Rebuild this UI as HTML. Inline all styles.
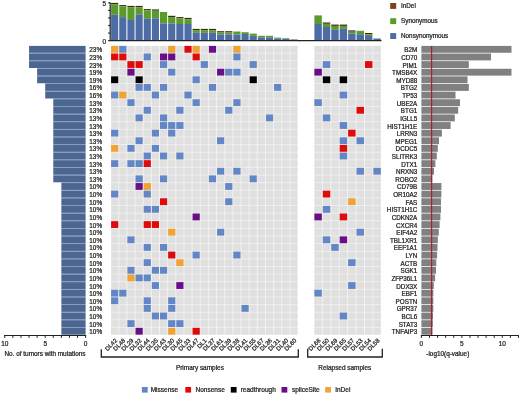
<!DOCTYPE html>
<html><head><meta charset="utf-8"><style>
html,body{margin:0;padding:0;background:#fff;}
body{width:520px;height:394px;overflow:hidden;}
svg{display:block;filter:blur(0.3px);}
text{font-family:"Liberation Sans",sans-serif;fill:#1e1e1e;stroke:#1e1e1e;stroke-width:0.24px;}
</style></head><body>
<svg width="520" height="394" viewBox="0 0 520 394">
<rect x="0" y="0" width="520" height="394" fill="#fff"/>
<g>
<rect x="111.1" y="45.9" width="186.45" height="288.74" fill="#f1f1f1"/>
<rect x="314.4" y="45.9" width="66.44" height="288.74" fill="#f1f1f1"/>
<rect x="111.1" y="45.9" width="7.15" height="6.8" fill="#e0e0e0"/>
<rect x="119.25" y="45.9" width="7.15" height="6.8" fill="#e0e0e0"/>
<rect x="127.4" y="45.9" width="7.15" height="6.8" fill="#e0e0e0"/>
<rect x="135.55" y="45.9" width="7.15" height="6.8" fill="#e0e0e0"/>
<rect x="143.7" y="45.9" width="7.15" height="6.8" fill="#e0e0e0"/>
<rect x="151.85" y="45.9" width="7.15" height="6.8" fill="#e0e0e0"/>
<rect x="160" y="45.9" width="7.15" height="6.8" fill="#e0e0e0"/>
<rect x="168.15" y="45.9" width="7.15" height="6.8" fill="#e0e0e0"/>
<rect x="176.3" y="45.9" width="7.15" height="6.8" fill="#e0e0e0"/>
<rect x="184.45" y="45.9" width="7.15" height="6.8" fill="#e0e0e0"/>
<rect x="192.6" y="45.9" width="7.15" height="6.8" fill="#e0e0e0"/>
<rect x="200.75" y="45.9" width="7.15" height="6.8" fill="#e0e0e0"/>
<rect x="208.9" y="45.9" width="7.15" height="6.8" fill="#e0e0e0"/>
<rect x="217.05" y="45.9" width="7.15" height="6.8" fill="#e0e0e0"/>
<rect x="225.2" y="45.9" width="7.15" height="6.8" fill="#e0e0e0"/>
<rect x="233.35" y="45.9" width="7.15" height="6.8" fill="#e0e0e0"/>
<rect x="241.5" y="45.9" width="7.15" height="6.8" fill="#e0e0e0"/>
<rect x="249.65" y="45.9" width="7.15" height="6.8" fill="#e0e0e0"/>
<rect x="257.8" y="45.9" width="7.15" height="6.8" fill="#e0e0e0"/>
<rect x="265.95" y="45.9" width="7.15" height="6.8" fill="#e0e0e0"/>
<rect x="274.1" y="45.9" width="7.15" height="6.8" fill="#e0e0e0"/>
<rect x="282.25" y="45.9" width="7.15" height="6.8" fill="#e0e0e0"/>
<rect x="290.4" y="45.9" width="7.15" height="6.8" fill="#e0e0e0"/>
<rect x="314.4" y="45.9" width="7.43" height="6.8" fill="#e0e0e0"/>
<rect x="322.83" y="45.9" width="7.43" height="6.8" fill="#e0e0e0"/>
<rect x="331.26" y="45.9" width="7.43" height="6.8" fill="#e0e0e0"/>
<rect x="339.69" y="45.9" width="7.43" height="6.8" fill="#e0e0e0"/>
<rect x="348.12" y="45.9" width="7.43" height="6.8" fill="#e0e0e0"/>
<rect x="356.55" y="45.9" width="7.43" height="6.8" fill="#e0e0e0"/>
<rect x="364.98" y="45.9" width="7.43" height="6.8" fill="#e0e0e0"/>
<rect x="373.41" y="45.9" width="7.43" height="6.8" fill="#e0e0e0"/>
<rect x="111.1" y="53.52" width="7.15" height="6.8" fill="#e0e0e0"/>
<rect x="119.25" y="53.52" width="7.15" height="6.8" fill="#e0e0e0"/>
<rect x="127.4" y="53.52" width="7.15" height="6.8" fill="#e0e0e0"/>
<rect x="135.55" y="53.52" width="7.15" height="6.8" fill="#e0e0e0"/>
<rect x="143.7" y="53.52" width="7.15" height="6.8" fill="#e0e0e0"/>
<rect x="151.85" y="53.52" width="7.15" height="6.8" fill="#e0e0e0"/>
<rect x="160" y="53.52" width="7.15" height="6.8" fill="#e0e0e0"/>
<rect x="168.15" y="53.52" width="7.15" height="6.8" fill="#e0e0e0"/>
<rect x="176.3" y="53.52" width="7.15" height="6.8" fill="#e0e0e0"/>
<rect x="184.45" y="53.52" width="7.15" height="6.8" fill="#e0e0e0"/>
<rect x="192.6" y="53.52" width="7.15" height="6.8" fill="#e0e0e0"/>
<rect x="200.75" y="53.52" width="7.15" height="6.8" fill="#e0e0e0"/>
<rect x="208.9" y="53.52" width="7.15" height="6.8" fill="#e0e0e0"/>
<rect x="217.05" y="53.52" width="7.15" height="6.8" fill="#e0e0e0"/>
<rect x="225.2" y="53.52" width="7.15" height="6.8" fill="#e0e0e0"/>
<rect x="233.35" y="53.52" width="7.15" height="6.8" fill="#e0e0e0"/>
<rect x="241.5" y="53.52" width="7.15" height="6.8" fill="#e0e0e0"/>
<rect x="249.65" y="53.52" width="7.15" height="6.8" fill="#e0e0e0"/>
<rect x="257.8" y="53.52" width="7.15" height="6.8" fill="#e0e0e0"/>
<rect x="265.95" y="53.52" width="7.15" height="6.8" fill="#e0e0e0"/>
<rect x="274.1" y="53.52" width="7.15" height="6.8" fill="#e0e0e0"/>
<rect x="282.25" y="53.52" width="7.15" height="6.8" fill="#e0e0e0"/>
<rect x="290.4" y="53.52" width="7.15" height="6.8" fill="#e0e0e0"/>
<rect x="314.4" y="53.52" width="7.43" height="6.8" fill="#e0e0e0"/>
<rect x="322.83" y="53.52" width="7.43" height="6.8" fill="#e0e0e0"/>
<rect x="331.26" y="53.52" width="7.43" height="6.8" fill="#e0e0e0"/>
<rect x="339.69" y="53.52" width="7.43" height="6.8" fill="#e0e0e0"/>
<rect x="348.12" y="53.52" width="7.43" height="6.8" fill="#e0e0e0"/>
<rect x="356.55" y="53.52" width="7.43" height="6.8" fill="#e0e0e0"/>
<rect x="364.98" y="53.52" width="7.43" height="6.8" fill="#e0e0e0"/>
<rect x="373.41" y="53.52" width="7.43" height="6.8" fill="#e0e0e0"/>
<rect x="111.1" y="61.14" width="7.15" height="6.8" fill="#e0e0e0"/>
<rect x="119.25" y="61.14" width="7.15" height="6.8" fill="#e0e0e0"/>
<rect x="127.4" y="61.14" width="7.15" height="6.8" fill="#e0e0e0"/>
<rect x="135.55" y="61.14" width="7.15" height="6.8" fill="#e0e0e0"/>
<rect x="143.7" y="61.14" width="7.15" height="6.8" fill="#e0e0e0"/>
<rect x="151.85" y="61.14" width="7.15" height="6.8" fill="#e0e0e0"/>
<rect x="160" y="61.14" width="7.15" height="6.8" fill="#e0e0e0"/>
<rect x="168.15" y="61.14" width="7.15" height="6.8" fill="#e0e0e0"/>
<rect x="176.3" y="61.14" width="7.15" height="6.8" fill="#e0e0e0"/>
<rect x="184.45" y="61.14" width="7.15" height="6.8" fill="#e0e0e0"/>
<rect x="192.6" y="61.14" width="7.15" height="6.8" fill="#e0e0e0"/>
<rect x="200.75" y="61.14" width="7.15" height="6.8" fill="#e0e0e0"/>
<rect x="208.9" y="61.14" width="7.15" height="6.8" fill="#e0e0e0"/>
<rect x="217.05" y="61.14" width="7.15" height="6.8" fill="#e0e0e0"/>
<rect x="225.2" y="61.14" width="7.15" height="6.8" fill="#e0e0e0"/>
<rect x="233.35" y="61.14" width="7.15" height="6.8" fill="#e0e0e0"/>
<rect x="241.5" y="61.14" width="7.15" height="6.8" fill="#e0e0e0"/>
<rect x="249.65" y="61.14" width="7.15" height="6.8" fill="#e0e0e0"/>
<rect x="257.8" y="61.14" width="7.15" height="6.8" fill="#e0e0e0"/>
<rect x="265.95" y="61.14" width="7.15" height="6.8" fill="#e0e0e0"/>
<rect x="274.1" y="61.14" width="7.15" height="6.8" fill="#e0e0e0"/>
<rect x="282.25" y="61.14" width="7.15" height="6.8" fill="#e0e0e0"/>
<rect x="290.4" y="61.14" width="7.15" height="6.8" fill="#e0e0e0"/>
<rect x="314.4" y="61.14" width="7.43" height="6.8" fill="#e0e0e0"/>
<rect x="322.83" y="61.14" width="7.43" height="6.8" fill="#e0e0e0"/>
<rect x="331.26" y="61.14" width="7.43" height="6.8" fill="#e0e0e0"/>
<rect x="339.69" y="61.14" width="7.43" height="6.8" fill="#e0e0e0"/>
<rect x="348.12" y="61.14" width="7.43" height="6.8" fill="#e0e0e0"/>
<rect x="356.55" y="61.14" width="7.43" height="6.8" fill="#e0e0e0"/>
<rect x="364.98" y="61.14" width="7.43" height="6.8" fill="#e0e0e0"/>
<rect x="373.41" y="61.14" width="7.43" height="6.8" fill="#e0e0e0"/>
<rect x="111.1" y="68.76" width="7.15" height="6.8" fill="#e0e0e0"/>
<rect x="119.25" y="68.76" width="7.15" height="6.8" fill="#e0e0e0"/>
<rect x="127.4" y="68.76" width="7.15" height="6.8" fill="#e0e0e0"/>
<rect x="135.55" y="68.76" width="7.15" height="6.8" fill="#e0e0e0"/>
<rect x="143.7" y="68.76" width="7.15" height="6.8" fill="#e0e0e0"/>
<rect x="151.85" y="68.76" width="7.15" height="6.8" fill="#e0e0e0"/>
<rect x="160" y="68.76" width="7.15" height="6.8" fill="#e0e0e0"/>
<rect x="168.15" y="68.76" width="7.15" height="6.8" fill="#e0e0e0"/>
<rect x="176.3" y="68.76" width="7.15" height="6.8" fill="#e0e0e0"/>
<rect x="184.45" y="68.76" width="7.15" height="6.8" fill="#e0e0e0"/>
<rect x="192.6" y="68.76" width="7.15" height="6.8" fill="#e0e0e0"/>
<rect x="200.75" y="68.76" width="7.15" height="6.8" fill="#e0e0e0"/>
<rect x="208.9" y="68.76" width="7.15" height="6.8" fill="#e0e0e0"/>
<rect x="217.05" y="68.76" width="7.15" height="6.8" fill="#e0e0e0"/>
<rect x="225.2" y="68.76" width="7.15" height="6.8" fill="#e0e0e0"/>
<rect x="233.35" y="68.76" width="7.15" height="6.8" fill="#e0e0e0"/>
<rect x="241.5" y="68.76" width="7.15" height="6.8" fill="#e0e0e0"/>
<rect x="249.65" y="68.76" width="7.15" height="6.8" fill="#e0e0e0"/>
<rect x="257.8" y="68.76" width="7.15" height="6.8" fill="#e0e0e0"/>
<rect x="265.95" y="68.76" width="7.15" height="6.8" fill="#e0e0e0"/>
<rect x="274.1" y="68.76" width="7.15" height="6.8" fill="#e0e0e0"/>
<rect x="282.25" y="68.76" width="7.15" height="6.8" fill="#e0e0e0"/>
<rect x="290.4" y="68.76" width="7.15" height="6.8" fill="#e0e0e0"/>
<rect x="314.4" y="68.76" width="7.43" height="6.8" fill="#e0e0e0"/>
<rect x="322.83" y="68.76" width="7.43" height="6.8" fill="#e0e0e0"/>
<rect x="331.26" y="68.76" width="7.43" height="6.8" fill="#e0e0e0"/>
<rect x="339.69" y="68.76" width="7.43" height="6.8" fill="#e0e0e0"/>
<rect x="348.12" y="68.76" width="7.43" height="6.8" fill="#e0e0e0"/>
<rect x="356.55" y="68.76" width="7.43" height="6.8" fill="#e0e0e0"/>
<rect x="364.98" y="68.76" width="7.43" height="6.8" fill="#e0e0e0"/>
<rect x="373.41" y="68.76" width="7.43" height="6.8" fill="#e0e0e0"/>
<rect x="111.1" y="76.38" width="7.15" height="6.8" fill="#e0e0e0"/>
<rect x="119.25" y="76.38" width="7.15" height="6.8" fill="#e0e0e0"/>
<rect x="127.4" y="76.38" width="7.15" height="6.8" fill="#e0e0e0"/>
<rect x="135.55" y="76.38" width="7.15" height="6.8" fill="#e0e0e0"/>
<rect x="143.7" y="76.38" width="7.15" height="6.8" fill="#e0e0e0"/>
<rect x="151.85" y="76.38" width="7.15" height="6.8" fill="#e0e0e0"/>
<rect x="160" y="76.38" width="7.15" height="6.8" fill="#e0e0e0"/>
<rect x="168.15" y="76.38" width="7.15" height="6.8" fill="#e0e0e0"/>
<rect x="176.3" y="76.38" width="7.15" height="6.8" fill="#e0e0e0"/>
<rect x="184.45" y="76.38" width="7.15" height="6.8" fill="#e0e0e0"/>
<rect x="192.6" y="76.38" width="7.15" height="6.8" fill="#e0e0e0"/>
<rect x="200.75" y="76.38" width="7.15" height="6.8" fill="#e0e0e0"/>
<rect x="208.9" y="76.38" width="7.15" height="6.8" fill="#e0e0e0"/>
<rect x="217.05" y="76.38" width="7.15" height="6.8" fill="#e0e0e0"/>
<rect x="225.2" y="76.38" width="7.15" height="6.8" fill="#e0e0e0"/>
<rect x="233.35" y="76.38" width="7.15" height="6.8" fill="#e0e0e0"/>
<rect x="241.5" y="76.38" width="7.15" height="6.8" fill="#e0e0e0"/>
<rect x="249.65" y="76.38" width="7.15" height="6.8" fill="#e0e0e0"/>
<rect x="257.8" y="76.38" width="7.15" height="6.8" fill="#e0e0e0"/>
<rect x="265.95" y="76.38" width="7.15" height="6.8" fill="#e0e0e0"/>
<rect x="274.1" y="76.38" width="7.15" height="6.8" fill="#e0e0e0"/>
<rect x="282.25" y="76.38" width="7.15" height="6.8" fill="#e0e0e0"/>
<rect x="290.4" y="76.38" width="7.15" height="6.8" fill="#e0e0e0"/>
<rect x="314.4" y="76.38" width="7.43" height="6.8" fill="#e0e0e0"/>
<rect x="322.83" y="76.38" width="7.43" height="6.8" fill="#e0e0e0"/>
<rect x="331.26" y="76.38" width="7.43" height="6.8" fill="#e0e0e0"/>
<rect x="339.69" y="76.38" width="7.43" height="6.8" fill="#e0e0e0"/>
<rect x="348.12" y="76.38" width="7.43" height="6.8" fill="#e0e0e0"/>
<rect x="356.55" y="76.38" width="7.43" height="6.8" fill="#e0e0e0"/>
<rect x="364.98" y="76.38" width="7.43" height="6.8" fill="#e0e0e0"/>
<rect x="373.41" y="76.38" width="7.43" height="6.8" fill="#e0e0e0"/>
<rect x="111.1" y="84" width="7.15" height="6.8" fill="#e0e0e0"/>
<rect x="119.25" y="84" width="7.15" height="6.8" fill="#e0e0e0"/>
<rect x="127.4" y="84" width="7.15" height="6.8" fill="#e0e0e0"/>
<rect x="135.55" y="84" width="7.15" height="6.8" fill="#e0e0e0"/>
<rect x="143.7" y="84" width="7.15" height="6.8" fill="#e0e0e0"/>
<rect x="151.85" y="84" width="7.15" height="6.8" fill="#e0e0e0"/>
<rect x="160" y="84" width="7.15" height="6.8" fill="#e0e0e0"/>
<rect x="168.15" y="84" width="7.15" height="6.8" fill="#e0e0e0"/>
<rect x="176.3" y="84" width="7.15" height="6.8" fill="#e0e0e0"/>
<rect x="184.45" y="84" width="7.15" height="6.8" fill="#e0e0e0"/>
<rect x="192.6" y="84" width="7.15" height="6.8" fill="#e0e0e0"/>
<rect x="200.75" y="84" width="7.15" height="6.8" fill="#e0e0e0"/>
<rect x="208.9" y="84" width="7.15" height="6.8" fill="#e0e0e0"/>
<rect x="217.05" y="84" width="7.15" height="6.8" fill="#e0e0e0"/>
<rect x="225.2" y="84" width="7.15" height="6.8" fill="#e0e0e0"/>
<rect x="233.35" y="84" width="7.15" height="6.8" fill="#e0e0e0"/>
<rect x="241.5" y="84" width="7.15" height="6.8" fill="#e0e0e0"/>
<rect x="249.65" y="84" width="7.15" height="6.8" fill="#e0e0e0"/>
<rect x="257.8" y="84" width="7.15" height="6.8" fill="#e0e0e0"/>
<rect x="265.95" y="84" width="7.15" height="6.8" fill="#e0e0e0"/>
<rect x="274.1" y="84" width="7.15" height="6.8" fill="#e0e0e0"/>
<rect x="282.25" y="84" width="7.15" height="6.8" fill="#e0e0e0"/>
<rect x="290.4" y="84" width="7.15" height="6.8" fill="#e0e0e0"/>
<rect x="314.4" y="84" width="7.43" height="6.8" fill="#e0e0e0"/>
<rect x="322.83" y="84" width="7.43" height="6.8" fill="#e0e0e0"/>
<rect x="331.26" y="84" width="7.43" height="6.8" fill="#e0e0e0"/>
<rect x="339.69" y="84" width="7.43" height="6.8" fill="#e0e0e0"/>
<rect x="348.12" y="84" width="7.43" height="6.8" fill="#e0e0e0"/>
<rect x="356.55" y="84" width="7.43" height="6.8" fill="#e0e0e0"/>
<rect x="364.98" y="84" width="7.43" height="6.8" fill="#e0e0e0"/>
<rect x="373.41" y="84" width="7.43" height="6.8" fill="#e0e0e0"/>
<rect x="111.1" y="91.62" width="7.15" height="6.8" fill="#e0e0e0"/>
<rect x="119.25" y="91.62" width="7.15" height="6.8" fill="#e0e0e0"/>
<rect x="127.4" y="91.62" width="7.15" height="6.8" fill="#e0e0e0"/>
<rect x="135.55" y="91.62" width="7.15" height="6.8" fill="#e0e0e0"/>
<rect x="143.7" y="91.62" width="7.15" height="6.8" fill="#e0e0e0"/>
<rect x="151.85" y="91.62" width="7.15" height="6.8" fill="#e0e0e0"/>
<rect x="160" y="91.62" width="7.15" height="6.8" fill="#e0e0e0"/>
<rect x="168.15" y="91.62" width="7.15" height="6.8" fill="#e0e0e0"/>
<rect x="176.3" y="91.62" width="7.15" height="6.8" fill="#e0e0e0"/>
<rect x="184.45" y="91.62" width="7.15" height="6.8" fill="#e0e0e0"/>
<rect x="192.6" y="91.62" width="7.15" height="6.8" fill="#e0e0e0"/>
<rect x="200.75" y="91.62" width="7.15" height="6.8" fill="#e0e0e0"/>
<rect x="208.9" y="91.62" width="7.15" height="6.8" fill="#e0e0e0"/>
<rect x="217.05" y="91.62" width="7.15" height="6.8" fill="#e0e0e0"/>
<rect x="225.2" y="91.62" width="7.15" height="6.8" fill="#e0e0e0"/>
<rect x="233.35" y="91.62" width="7.15" height="6.8" fill="#e0e0e0"/>
<rect x="241.5" y="91.62" width="7.15" height="6.8" fill="#e0e0e0"/>
<rect x="249.65" y="91.62" width="7.15" height="6.8" fill="#e0e0e0"/>
<rect x="257.8" y="91.62" width="7.15" height="6.8" fill="#e0e0e0"/>
<rect x="265.95" y="91.62" width="7.15" height="6.8" fill="#e0e0e0"/>
<rect x="274.1" y="91.62" width="7.15" height="6.8" fill="#e0e0e0"/>
<rect x="282.25" y="91.62" width="7.15" height="6.8" fill="#e0e0e0"/>
<rect x="290.4" y="91.62" width="7.15" height="6.8" fill="#e0e0e0"/>
<rect x="314.4" y="91.62" width="7.43" height="6.8" fill="#e0e0e0"/>
<rect x="322.83" y="91.62" width="7.43" height="6.8" fill="#e0e0e0"/>
<rect x="331.26" y="91.62" width="7.43" height="6.8" fill="#e0e0e0"/>
<rect x="339.69" y="91.62" width="7.43" height="6.8" fill="#e0e0e0"/>
<rect x="348.12" y="91.62" width="7.43" height="6.8" fill="#e0e0e0"/>
<rect x="356.55" y="91.62" width="7.43" height="6.8" fill="#e0e0e0"/>
<rect x="364.98" y="91.62" width="7.43" height="6.8" fill="#e0e0e0"/>
<rect x="373.41" y="91.62" width="7.43" height="6.8" fill="#e0e0e0"/>
<rect x="111.1" y="99.24" width="7.15" height="6.8" fill="#e0e0e0"/>
<rect x="119.25" y="99.24" width="7.15" height="6.8" fill="#e0e0e0"/>
<rect x="127.4" y="99.24" width="7.15" height="6.8" fill="#e0e0e0"/>
<rect x="135.55" y="99.24" width="7.15" height="6.8" fill="#e0e0e0"/>
<rect x="143.7" y="99.24" width="7.15" height="6.8" fill="#e0e0e0"/>
<rect x="151.85" y="99.24" width="7.15" height="6.8" fill="#e0e0e0"/>
<rect x="160" y="99.24" width="7.15" height="6.8" fill="#e0e0e0"/>
<rect x="168.15" y="99.24" width="7.15" height="6.8" fill="#e0e0e0"/>
<rect x="176.3" y="99.24" width="7.15" height="6.8" fill="#e0e0e0"/>
<rect x="184.45" y="99.24" width="7.15" height="6.8" fill="#e0e0e0"/>
<rect x="192.6" y="99.24" width="7.15" height="6.8" fill="#e0e0e0"/>
<rect x="200.75" y="99.24" width="7.15" height="6.8" fill="#e0e0e0"/>
<rect x="208.9" y="99.24" width="7.15" height="6.8" fill="#e0e0e0"/>
<rect x="217.05" y="99.24" width="7.15" height="6.8" fill="#e0e0e0"/>
<rect x="225.2" y="99.24" width="7.15" height="6.8" fill="#e0e0e0"/>
<rect x="233.35" y="99.24" width="7.15" height="6.8" fill="#e0e0e0"/>
<rect x="241.5" y="99.24" width="7.15" height="6.8" fill="#e0e0e0"/>
<rect x="249.65" y="99.24" width="7.15" height="6.8" fill="#e0e0e0"/>
<rect x="257.8" y="99.24" width="7.15" height="6.8" fill="#e0e0e0"/>
<rect x="265.95" y="99.24" width="7.15" height="6.8" fill="#e0e0e0"/>
<rect x="274.1" y="99.24" width="7.15" height="6.8" fill="#e0e0e0"/>
<rect x="282.25" y="99.24" width="7.15" height="6.8" fill="#e0e0e0"/>
<rect x="290.4" y="99.24" width="7.15" height="6.8" fill="#e0e0e0"/>
<rect x="314.4" y="99.24" width="7.43" height="6.8" fill="#e0e0e0"/>
<rect x="322.83" y="99.24" width="7.43" height="6.8" fill="#e0e0e0"/>
<rect x="331.26" y="99.24" width="7.43" height="6.8" fill="#e0e0e0"/>
<rect x="339.69" y="99.24" width="7.43" height="6.8" fill="#e0e0e0"/>
<rect x="348.12" y="99.24" width="7.43" height="6.8" fill="#e0e0e0"/>
<rect x="356.55" y="99.24" width="7.43" height="6.8" fill="#e0e0e0"/>
<rect x="364.98" y="99.24" width="7.43" height="6.8" fill="#e0e0e0"/>
<rect x="373.41" y="99.24" width="7.43" height="6.8" fill="#e0e0e0"/>
<rect x="111.1" y="106.86" width="7.15" height="6.8" fill="#e0e0e0"/>
<rect x="119.25" y="106.86" width="7.15" height="6.8" fill="#e0e0e0"/>
<rect x="127.4" y="106.86" width="7.15" height="6.8" fill="#e0e0e0"/>
<rect x="135.55" y="106.86" width="7.15" height="6.8" fill="#e0e0e0"/>
<rect x="143.7" y="106.86" width="7.15" height="6.8" fill="#e0e0e0"/>
<rect x="151.85" y="106.86" width="7.15" height="6.8" fill="#e0e0e0"/>
<rect x="160" y="106.86" width="7.15" height="6.8" fill="#e0e0e0"/>
<rect x="168.15" y="106.86" width="7.15" height="6.8" fill="#e0e0e0"/>
<rect x="176.3" y="106.86" width="7.15" height="6.8" fill="#e0e0e0"/>
<rect x="184.45" y="106.86" width="7.15" height="6.8" fill="#e0e0e0"/>
<rect x="192.6" y="106.86" width="7.15" height="6.8" fill="#e0e0e0"/>
<rect x="200.75" y="106.86" width="7.15" height="6.8" fill="#e0e0e0"/>
<rect x="208.9" y="106.86" width="7.15" height="6.8" fill="#e0e0e0"/>
<rect x="217.05" y="106.86" width="7.15" height="6.8" fill="#e0e0e0"/>
<rect x="225.2" y="106.86" width="7.15" height="6.8" fill="#e0e0e0"/>
<rect x="233.35" y="106.86" width="7.15" height="6.8" fill="#e0e0e0"/>
<rect x="241.5" y="106.86" width="7.15" height="6.8" fill="#e0e0e0"/>
<rect x="249.65" y="106.86" width="7.15" height="6.8" fill="#e0e0e0"/>
<rect x="257.8" y="106.86" width="7.15" height="6.8" fill="#e0e0e0"/>
<rect x="265.95" y="106.86" width="7.15" height="6.8" fill="#e0e0e0"/>
<rect x="274.1" y="106.86" width="7.15" height="6.8" fill="#e0e0e0"/>
<rect x="282.25" y="106.86" width="7.15" height="6.8" fill="#e0e0e0"/>
<rect x="290.4" y="106.86" width="7.15" height="6.8" fill="#e0e0e0"/>
<rect x="314.4" y="106.86" width="7.43" height="6.8" fill="#e0e0e0"/>
<rect x="322.83" y="106.86" width="7.43" height="6.8" fill="#e0e0e0"/>
<rect x="331.26" y="106.86" width="7.43" height="6.8" fill="#e0e0e0"/>
<rect x="339.69" y="106.86" width="7.43" height="6.8" fill="#e0e0e0"/>
<rect x="348.12" y="106.86" width="7.43" height="6.8" fill="#e0e0e0"/>
<rect x="356.55" y="106.86" width="7.43" height="6.8" fill="#e0e0e0"/>
<rect x="364.98" y="106.86" width="7.43" height="6.8" fill="#e0e0e0"/>
<rect x="373.41" y="106.86" width="7.43" height="6.8" fill="#e0e0e0"/>
<rect x="111.1" y="114.48" width="7.15" height="6.8" fill="#e0e0e0"/>
<rect x="119.25" y="114.48" width="7.15" height="6.8" fill="#e0e0e0"/>
<rect x="127.4" y="114.48" width="7.15" height="6.8" fill="#e0e0e0"/>
<rect x="135.55" y="114.48" width="7.15" height="6.8" fill="#e0e0e0"/>
<rect x="143.7" y="114.48" width="7.15" height="6.8" fill="#e0e0e0"/>
<rect x="151.85" y="114.48" width="7.15" height="6.8" fill="#e0e0e0"/>
<rect x="160" y="114.48" width="7.15" height="6.8" fill="#e0e0e0"/>
<rect x="168.15" y="114.48" width="7.15" height="6.8" fill="#e0e0e0"/>
<rect x="176.3" y="114.48" width="7.15" height="6.8" fill="#e0e0e0"/>
<rect x="184.45" y="114.48" width="7.15" height="6.8" fill="#e0e0e0"/>
<rect x="192.6" y="114.48" width="7.15" height="6.8" fill="#e0e0e0"/>
<rect x="200.75" y="114.48" width="7.15" height="6.8" fill="#e0e0e0"/>
<rect x="208.9" y="114.48" width="7.15" height="6.8" fill="#e0e0e0"/>
<rect x="217.05" y="114.48" width="7.15" height="6.8" fill="#e0e0e0"/>
<rect x="225.2" y="114.48" width="7.15" height="6.8" fill="#e0e0e0"/>
<rect x="233.35" y="114.48" width="7.15" height="6.8" fill="#e0e0e0"/>
<rect x="241.5" y="114.48" width="7.15" height="6.8" fill="#e0e0e0"/>
<rect x="249.65" y="114.48" width="7.15" height="6.8" fill="#e0e0e0"/>
<rect x="257.8" y="114.48" width="7.15" height="6.8" fill="#e0e0e0"/>
<rect x="265.95" y="114.48" width="7.15" height="6.8" fill="#e0e0e0"/>
<rect x="274.1" y="114.48" width="7.15" height="6.8" fill="#e0e0e0"/>
<rect x="282.25" y="114.48" width="7.15" height="6.8" fill="#e0e0e0"/>
<rect x="290.4" y="114.48" width="7.15" height="6.8" fill="#e0e0e0"/>
<rect x="314.4" y="114.48" width="7.43" height="6.8" fill="#e0e0e0"/>
<rect x="322.83" y="114.48" width="7.43" height="6.8" fill="#e0e0e0"/>
<rect x="331.26" y="114.48" width="7.43" height="6.8" fill="#e0e0e0"/>
<rect x="339.69" y="114.48" width="7.43" height="6.8" fill="#e0e0e0"/>
<rect x="348.12" y="114.48" width="7.43" height="6.8" fill="#e0e0e0"/>
<rect x="356.55" y="114.48" width="7.43" height="6.8" fill="#e0e0e0"/>
<rect x="364.98" y="114.48" width="7.43" height="6.8" fill="#e0e0e0"/>
<rect x="373.41" y="114.48" width="7.43" height="6.8" fill="#e0e0e0"/>
<rect x="111.1" y="122.1" width="7.15" height="6.8" fill="#e0e0e0"/>
<rect x="119.25" y="122.1" width="7.15" height="6.8" fill="#e0e0e0"/>
<rect x="127.4" y="122.1" width="7.15" height="6.8" fill="#e0e0e0"/>
<rect x="135.55" y="122.1" width="7.15" height="6.8" fill="#e0e0e0"/>
<rect x="143.7" y="122.1" width="7.15" height="6.8" fill="#e0e0e0"/>
<rect x="151.85" y="122.1" width="7.15" height="6.8" fill="#e0e0e0"/>
<rect x="160" y="122.1" width="7.15" height="6.8" fill="#e0e0e0"/>
<rect x="168.15" y="122.1" width="7.15" height="6.8" fill="#e0e0e0"/>
<rect x="176.3" y="122.1" width="7.15" height="6.8" fill="#e0e0e0"/>
<rect x="184.45" y="122.1" width="7.15" height="6.8" fill="#e0e0e0"/>
<rect x="192.6" y="122.1" width="7.15" height="6.8" fill="#e0e0e0"/>
<rect x="200.75" y="122.1" width="7.15" height="6.8" fill="#e0e0e0"/>
<rect x="208.9" y="122.1" width="7.15" height="6.8" fill="#e0e0e0"/>
<rect x="217.05" y="122.1" width="7.15" height="6.8" fill="#e0e0e0"/>
<rect x="225.2" y="122.1" width="7.15" height="6.8" fill="#e0e0e0"/>
<rect x="233.35" y="122.1" width="7.15" height="6.8" fill="#e0e0e0"/>
<rect x="241.5" y="122.1" width="7.15" height="6.8" fill="#e0e0e0"/>
<rect x="249.65" y="122.1" width="7.15" height="6.8" fill="#e0e0e0"/>
<rect x="257.8" y="122.1" width="7.15" height="6.8" fill="#e0e0e0"/>
<rect x="265.95" y="122.1" width="7.15" height="6.8" fill="#e0e0e0"/>
<rect x="274.1" y="122.1" width="7.15" height="6.8" fill="#e0e0e0"/>
<rect x="282.25" y="122.1" width="7.15" height="6.8" fill="#e0e0e0"/>
<rect x="290.4" y="122.1" width="7.15" height="6.8" fill="#e0e0e0"/>
<rect x="314.4" y="122.1" width="7.43" height="6.8" fill="#e0e0e0"/>
<rect x="322.83" y="122.1" width="7.43" height="6.8" fill="#e0e0e0"/>
<rect x="331.26" y="122.1" width="7.43" height="6.8" fill="#e0e0e0"/>
<rect x="339.69" y="122.1" width="7.43" height="6.8" fill="#e0e0e0"/>
<rect x="348.12" y="122.1" width="7.43" height="6.8" fill="#e0e0e0"/>
<rect x="356.55" y="122.1" width="7.43" height="6.8" fill="#e0e0e0"/>
<rect x="364.98" y="122.1" width="7.43" height="6.8" fill="#e0e0e0"/>
<rect x="373.41" y="122.1" width="7.43" height="6.8" fill="#e0e0e0"/>
<rect x="111.1" y="129.72" width="7.15" height="6.8" fill="#e0e0e0"/>
<rect x="119.25" y="129.72" width="7.15" height="6.8" fill="#e0e0e0"/>
<rect x="127.4" y="129.72" width="7.15" height="6.8" fill="#e0e0e0"/>
<rect x="135.55" y="129.72" width="7.15" height="6.8" fill="#e0e0e0"/>
<rect x="143.7" y="129.72" width="7.15" height="6.8" fill="#e0e0e0"/>
<rect x="151.85" y="129.72" width="7.15" height="6.8" fill="#e0e0e0"/>
<rect x="160" y="129.72" width="7.15" height="6.8" fill="#e0e0e0"/>
<rect x="168.15" y="129.72" width="7.15" height="6.8" fill="#e0e0e0"/>
<rect x="176.3" y="129.72" width="7.15" height="6.8" fill="#e0e0e0"/>
<rect x="184.45" y="129.72" width="7.15" height="6.8" fill="#e0e0e0"/>
<rect x="192.6" y="129.72" width="7.15" height="6.8" fill="#e0e0e0"/>
<rect x="200.75" y="129.72" width="7.15" height="6.8" fill="#e0e0e0"/>
<rect x="208.9" y="129.72" width="7.15" height="6.8" fill="#e0e0e0"/>
<rect x="217.05" y="129.72" width="7.15" height="6.8" fill="#e0e0e0"/>
<rect x="225.2" y="129.72" width="7.15" height="6.8" fill="#e0e0e0"/>
<rect x="233.35" y="129.72" width="7.15" height="6.8" fill="#e0e0e0"/>
<rect x="241.5" y="129.72" width="7.15" height="6.8" fill="#e0e0e0"/>
<rect x="249.65" y="129.72" width="7.15" height="6.8" fill="#e0e0e0"/>
<rect x="257.8" y="129.72" width="7.15" height="6.8" fill="#e0e0e0"/>
<rect x="265.95" y="129.72" width="7.15" height="6.8" fill="#e0e0e0"/>
<rect x="274.1" y="129.72" width="7.15" height="6.8" fill="#e0e0e0"/>
<rect x="282.25" y="129.72" width="7.15" height="6.8" fill="#e0e0e0"/>
<rect x="290.4" y="129.72" width="7.15" height="6.8" fill="#e0e0e0"/>
<rect x="314.4" y="129.72" width="7.43" height="6.8" fill="#e0e0e0"/>
<rect x="322.83" y="129.72" width="7.43" height="6.8" fill="#e0e0e0"/>
<rect x="331.26" y="129.72" width="7.43" height="6.8" fill="#e0e0e0"/>
<rect x="339.69" y="129.72" width="7.43" height="6.8" fill="#e0e0e0"/>
<rect x="348.12" y="129.72" width="7.43" height="6.8" fill="#e0e0e0"/>
<rect x="356.55" y="129.72" width="7.43" height="6.8" fill="#e0e0e0"/>
<rect x="364.98" y="129.72" width="7.43" height="6.8" fill="#e0e0e0"/>
<rect x="373.41" y="129.72" width="7.43" height="6.8" fill="#e0e0e0"/>
<rect x="111.1" y="137.34" width="7.15" height="6.8" fill="#e0e0e0"/>
<rect x="119.25" y="137.34" width="7.15" height="6.8" fill="#e0e0e0"/>
<rect x="127.4" y="137.34" width="7.15" height="6.8" fill="#e0e0e0"/>
<rect x="135.55" y="137.34" width="7.15" height="6.8" fill="#e0e0e0"/>
<rect x="143.7" y="137.34" width="7.15" height="6.8" fill="#e0e0e0"/>
<rect x="151.85" y="137.34" width="7.15" height="6.8" fill="#e0e0e0"/>
<rect x="160" y="137.34" width="7.15" height="6.8" fill="#e0e0e0"/>
<rect x="168.15" y="137.34" width="7.15" height="6.8" fill="#e0e0e0"/>
<rect x="176.3" y="137.34" width="7.15" height="6.8" fill="#e0e0e0"/>
<rect x="184.45" y="137.34" width="7.15" height="6.8" fill="#e0e0e0"/>
<rect x="192.6" y="137.34" width="7.15" height="6.8" fill="#e0e0e0"/>
<rect x="200.75" y="137.34" width="7.15" height="6.8" fill="#e0e0e0"/>
<rect x="208.9" y="137.34" width="7.15" height="6.8" fill="#e0e0e0"/>
<rect x="217.05" y="137.34" width="7.15" height="6.8" fill="#e0e0e0"/>
<rect x="225.2" y="137.34" width="7.15" height="6.8" fill="#e0e0e0"/>
<rect x="233.35" y="137.34" width="7.15" height="6.8" fill="#e0e0e0"/>
<rect x="241.5" y="137.34" width="7.15" height="6.8" fill="#e0e0e0"/>
<rect x="249.65" y="137.34" width="7.15" height="6.8" fill="#e0e0e0"/>
<rect x="257.8" y="137.34" width="7.15" height="6.8" fill="#e0e0e0"/>
<rect x="265.95" y="137.34" width="7.15" height="6.8" fill="#e0e0e0"/>
<rect x="274.1" y="137.34" width="7.15" height="6.8" fill="#e0e0e0"/>
<rect x="282.25" y="137.34" width="7.15" height="6.8" fill="#e0e0e0"/>
<rect x="290.4" y="137.34" width="7.15" height="6.8" fill="#e0e0e0"/>
<rect x="314.4" y="137.34" width="7.43" height="6.8" fill="#e0e0e0"/>
<rect x="322.83" y="137.34" width="7.43" height="6.8" fill="#e0e0e0"/>
<rect x="331.26" y="137.34" width="7.43" height="6.8" fill="#e0e0e0"/>
<rect x="339.69" y="137.34" width="7.43" height="6.8" fill="#e0e0e0"/>
<rect x="348.12" y="137.34" width="7.43" height="6.8" fill="#e0e0e0"/>
<rect x="356.55" y="137.34" width="7.43" height="6.8" fill="#e0e0e0"/>
<rect x="364.98" y="137.34" width="7.43" height="6.8" fill="#e0e0e0"/>
<rect x="373.41" y="137.34" width="7.43" height="6.8" fill="#e0e0e0"/>
<rect x="111.1" y="144.96" width="7.15" height="6.8" fill="#e0e0e0"/>
<rect x="119.25" y="144.96" width="7.15" height="6.8" fill="#e0e0e0"/>
<rect x="127.4" y="144.96" width="7.15" height="6.8" fill="#e0e0e0"/>
<rect x="135.55" y="144.96" width="7.15" height="6.8" fill="#e0e0e0"/>
<rect x="143.7" y="144.96" width="7.15" height="6.8" fill="#e0e0e0"/>
<rect x="151.85" y="144.96" width="7.15" height="6.8" fill="#e0e0e0"/>
<rect x="160" y="144.96" width="7.15" height="6.8" fill="#e0e0e0"/>
<rect x="168.15" y="144.96" width="7.15" height="6.8" fill="#e0e0e0"/>
<rect x="176.3" y="144.96" width="7.15" height="6.8" fill="#e0e0e0"/>
<rect x="184.45" y="144.96" width="7.15" height="6.8" fill="#e0e0e0"/>
<rect x="192.6" y="144.96" width="7.15" height="6.8" fill="#e0e0e0"/>
<rect x="200.75" y="144.96" width="7.15" height="6.8" fill="#e0e0e0"/>
<rect x="208.9" y="144.96" width="7.15" height="6.8" fill="#e0e0e0"/>
<rect x="217.05" y="144.96" width="7.15" height="6.8" fill="#e0e0e0"/>
<rect x="225.2" y="144.96" width="7.15" height="6.8" fill="#e0e0e0"/>
<rect x="233.35" y="144.96" width="7.15" height="6.8" fill="#e0e0e0"/>
<rect x="241.5" y="144.96" width="7.15" height="6.8" fill="#e0e0e0"/>
<rect x="249.65" y="144.96" width="7.15" height="6.8" fill="#e0e0e0"/>
<rect x="257.8" y="144.96" width="7.15" height="6.8" fill="#e0e0e0"/>
<rect x="265.95" y="144.96" width="7.15" height="6.8" fill="#e0e0e0"/>
<rect x="274.1" y="144.96" width="7.15" height="6.8" fill="#e0e0e0"/>
<rect x="282.25" y="144.96" width="7.15" height="6.8" fill="#e0e0e0"/>
<rect x="290.4" y="144.96" width="7.15" height="6.8" fill="#e0e0e0"/>
<rect x="314.4" y="144.96" width="7.43" height="6.8" fill="#e0e0e0"/>
<rect x="322.83" y="144.96" width="7.43" height="6.8" fill="#e0e0e0"/>
<rect x="331.26" y="144.96" width="7.43" height="6.8" fill="#e0e0e0"/>
<rect x="339.69" y="144.96" width="7.43" height="6.8" fill="#e0e0e0"/>
<rect x="348.12" y="144.96" width="7.43" height="6.8" fill="#e0e0e0"/>
<rect x="356.55" y="144.96" width="7.43" height="6.8" fill="#e0e0e0"/>
<rect x="364.98" y="144.96" width="7.43" height="6.8" fill="#e0e0e0"/>
<rect x="373.41" y="144.96" width="7.43" height="6.8" fill="#e0e0e0"/>
<rect x="111.1" y="152.58" width="7.15" height="6.8" fill="#e0e0e0"/>
<rect x="119.25" y="152.58" width="7.15" height="6.8" fill="#e0e0e0"/>
<rect x="127.4" y="152.58" width="7.15" height="6.8" fill="#e0e0e0"/>
<rect x="135.55" y="152.58" width="7.15" height="6.8" fill="#e0e0e0"/>
<rect x="143.7" y="152.58" width="7.15" height="6.8" fill="#e0e0e0"/>
<rect x="151.85" y="152.58" width="7.15" height="6.8" fill="#e0e0e0"/>
<rect x="160" y="152.58" width="7.15" height="6.8" fill="#e0e0e0"/>
<rect x="168.15" y="152.58" width="7.15" height="6.8" fill="#e0e0e0"/>
<rect x="176.3" y="152.58" width="7.15" height="6.8" fill="#e0e0e0"/>
<rect x="184.45" y="152.58" width="7.15" height="6.8" fill="#e0e0e0"/>
<rect x="192.6" y="152.58" width="7.15" height="6.8" fill="#e0e0e0"/>
<rect x="200.75" y="152.58" width="7.15" height="6.8" fill="#e0e0e0"/>
<rect x="208.9" y="152.58" width="7.15" height="6.8" fill="#e0e0e0"/>
<rect x="217.05" y="152.58" width="7.15" height="6.8" fill="#e0e0e0"/>
<rect x="225.2" y="152.58" width="7.15" height="6.8" fill="#e0e0e0"/>
<rect x="233.35" y="152.58" width="7.15" height="6.8" fill="#e0e0e0"/>
<rect x="241.5" y="152.58" width="7.15" height="6.8" fill="#e0e0e0"/>
<rect x="249.65" y="152.58" width="7.15" height="6.8" fill="#e0e0e0"/>
<rect x="257.8" y="152.58" width="7.15" height="6.8" fill="#e0e0e0"/>
<rect x="265.95" y="152.58" width="7.15" height="6.8" fill="#e0e0e0"/>
<rect x="274.1" y="152.58" width="7.15" height="6.8" fill="#e0e0e0"/>
<rect x="282.25" y="152.58" width="7.15" height="6.8" fill="#e0e0e0"/>
<rect x="290.4" y="152.58" width="7.15" height="6.8" fill="#e0e0e0"/>
<rect x="314.4" y="152.58" width="7.43" height="6.8" fill="#e0e0e0"/>
<rect x="322.83" y="152.58" width="7.43" height="6.8" fill="#e0e0e0"/>
<rect x="331.26" y="152.58" width="7.43" height="6.8" fill="#e0e0e0"/>
<rect x="339.69" y="152.58" width="7.43" height="6.8" fill="#e0e0e0"/>
<rect x="348.12" y="152.58" width="7.43" height="6.8" fill="#e0e0e0"/>
<rect x="356.55" y="152.58" width="7.43" height="6.8" fill="#e0e0e0"/>
<rect x="364.98" y="152.58" width="7.43" height="6.8" fill="#e0e0e0"/>
<rect x="373.41" y="152.58" width="7.43" height="6.8" fill="#e0e0e0"/>
<rect x="111.1" y="160.2" width="7.15" height="6.8" fill="#e0e0e0"/>
<rect x="119.25" y="160.2" width="7.15" height="6.8" fill="#e0e0e0"/>
<rect x="127.4" y="160.2" width="7.15" height="6.8" fill="#e0e0e0"/>
<rect x="135.55" y="160.2" width="7.15" height="6.8" fill="#e0e0e0"/>
<rect x="143.7" y="160.2" width="7.15" height="6.8" fill="#e0e0e0"/>
<rect x="151.85" y="160.2" width="7.15" height="6.8" fill="#e0e0e0"/>
<rect x="160" y="160.2" width="7.15" height="6.8" fill="#e0e0e0"/>
<rect x="168.15" y="160.2" width="7.15" height="6.8" fill="#e0e0e0"/>
<rect x="176.3" y="160.2" width="7.15" height="6.8" fill="#e0e0e0"/>
<rect x="184.45" y="160.2" width="7.15" height="6.8" fill="#e0e0e0"/>
<rect x="192.6" y="160.2" width="7.15" height="6.8" fill="#e0e0e0"/>
<rect x="200.75" y="160.2" width="7.15" height="6.8" fill="#e0e0e0"/>
<rect x="208.9" y="160.2" width="7.15" height="6.8" fill="#e0e0e0"/>
<rect x="217.05" y="160.2" width="7.15" height="6.8" fill="#e0e0e0"/>
<rect x="225.2" y="160.2" width="7.15" height="6.8" fill="#e0e0e0"/>
<rect x="233.35" y="160.2" width="7.15" height="6.8" fill="#e0e0e0"/>
<rect x="241.5" y="160.2" width="7.15" height="6.8" fill="#e0e0e0"/>
<rect x="249.65" y="160.2" width="7.15" height="6.8" fill="#e0e0e0"/>
<rect x="257.8" y="160.2" width="7.15" height="6.8" fill="#e0e0e0"/>
<rect x="265.95" y="160.2" width="7.15" height="6.8" fill="#e0e0e0"/>
<rect x="274.1" y="160.2" width="7.15" height="6.8" fill="#e0e0e0"/>
<rect x="282.25" y="160.2" width="7.15" height="6.8" fill="#e0e0e0"/>
<rect x="290.4" y="160.2" width="7.15" height="6.8" fill="#e0e0e0"/>
<rect x="314.4" y="160.2" width="7.43" height="6.8" fill="#e0e0e0"/>
<rect x="322.83" y="160.2" width="7.43" height="6.8" fill="#e0e0e0"/>
<rect x="331.26" y="160.2" width="7.43" height="6.8" fill="#e0e0e0"/>
<rect x="339.69" y="160.2" width="7.43" height="6.8" fill="#e0e0e0"/>
<rect x="348.12" y="160.2" width="7.43" height="6.8" fill="#e0e0e0"/>
<rect x="356.55" y="160.2" width="7.43" height="6.8" fill="#e0e0e0"/>
<rect x="364.98" y="160.2" width="7.43" height="6.8" fill="#e0e0e0"/>
<rect x="373.41" y="160.2" width="7.43" height="6.8" fill="#e0e0e0"/>
<rect x="111.1" y="167.82" width="7.15" height="6.8" fill="#e0e0e0"/>
<rect x="119.25" y="167.82" width="7.15" height="6.8" fill="#e0e0e0"/>
<rect x="127.4" y="167.82" width="7.15" height="6.8" fill="#e0e0e0"/>
<rect x="135.55" y="167.82" width="7.15" height="6.8" fill="#e0e0e0"/>
<rect x="143.7" y="167.82" width="7.15" height="6.8" fill="#e0e0e0"/>
<rect x="151.85" y="167.82" width="7.15" height="6.8" fill="#e0e0e0"/>
<rect x="160" y="167.82" width="7.15" height="6.8" fill="#e0e0e0"/>
<rect x="168.15" y="167.82" width="7.15" height="6.8" fill="#e0e0e0"/>
<rect x="176.3" y="167.82" width="7.15" height="6.8" fill="#e0e0e0"/>
<rect x="184.45" y="167.82" width="7.15" height="6.8" fill="#e0e0e0"/>
<rect x="192.6" y="167.82" width="7.15" height="6.8" fill="#e0e0e0"/>
<rect x="200.75" y="167.82" width="7.15" height="6.8" fill="#e0e0e0"/>
<rect x="208.9" y="167.82" width="7.15" height="6.8" fill="#e0e0e0"/>
<rect x="217.05" y="167.82" width="7.15" height="6.8" fill="#e0e0e0"/>
<rect x="225.2" y="167.82" width="7.15" height="6.8" fill="#e0e0e0"/>
<rect x="233.35" y="167.82" width="7.15" height="6.8" fill="#e0e0e0"/>
<rect x="241.5" y="167.82" width="7.15" height="6.8" fill="#e0e0e0"/>
<rect x="249.65" y="167.82" width="7.15" height="6.8" fill="#e0e0e0"/>
<rect x="257.8" y="167.82" width="7.15" height="6.8" fill="#e0e0e0"/>
<rect x="265.95" y="167.82" width="7.15" height="6.8" fill="#e0e0e0"/>
<rect x="274.1" y="167.82" width="7.15" height="6.8" fill="#e0e0e0"/>
<rect x="282.25" y="167.82" width="7.15" height="6.8" fill="#e0e0e0"/>
<rect x="290.4" y="167.82" width="7.15" height="6.8" fill="#e0e0e0"/>
<rect x="314.4" y="167.82" width="7.43" height="6.8" fill="#e0e0e0"/>
<rect x="322.83" y="167.82" width="7.43" height="6.8" fill="#e0e0e0"/>
<rect x="331.26" y="167.82" width="7.43" height="6.8" fill="#e0e0e0"/>
<rect x="339.69" y="167.82" width="7.43" height="6.8" fill="#e0e0e0"/>
<rect x="348.12" y="167.82" width="7.43" height="6.8" fill="#e0e0e0"/>
<rect x="356.55" y="167.82" width="7.43" height="6.8" fill="#e0e0e0"/>
<rect x="364.98" y="167.82" width="7.43" height="6.8" fill="#e0e0e0"/>
<rect x="373.41" y="167.82" width="7.43" height="6.8" fill="#e0e0e0"/>
<rect x="111.1" y="175.44" width="7.15" height="6.8" fill="#e0e0e0"/>
<rect x="119.25" y="175.44" width="7.15" height="6.8" fill="#e0e0e0"/>
<rect x="127.4" y="175.44" width="7.15" height="6.8" fill="#e0e0e0"/>
<rect x="135.55" y="175.44" width="7.15" height="6.8" fill="#e0e0e0"/>
<rect x="143.7" y="175.44" width="7.15" height="6.8" fill="#e0e0e0"/>
<rect x="151.85" y="175.44" width="7.15" height="6.8" fill="#e0e0e0"/>
<rect x="160" y="175.44" width="7.15" height="6.8" fill="#e0e0e0"/>
<rect x="168.15" y="175.44" width="7.15" height="6.8" fill="#e0e0e0"/>
<rect x="176.3" y="175.44" width="7.15" height="6.8" fill="#e0e0e0"/>
<rect x="184.45" y="175.44" width="7.15" height="6.8" fill="#e0e0e0"/>
<rect x="192.6" y="175.44" width="7.15" height="6.8" fill="#e0e0e0"/>
<rect x="200.75" y="175.44" width="7.15" height="6.8" fill="#e0e0e0"/>
<rect x="208.9" y="175.44" width="7.15" height="6.8" fill="#e0e0e0"/>
<rect x="217.05" y="175.44" width="7.15" height="6.8" fill="#e0e0e0"/>
<rect x="225.2" y="175.44" width="7.15" height="6.8" fill="#e0e0e0"/>
<rect x="233.35" y="175.44" width="7.15" height="6.8" fill="#e0e0e0"/>
<rect x="241.5" y="175.44" width="7.15" height="6.8" fill="#e0e0e0"/>
<rect x="249.65" y="175.44" width="7.15" height="6.8" fill="#e0e0e0"/>
<rect x="257.8" y="175.44" width="7.15" height="6.8" fill="#e0e0e0"/>
<rect x="265.95" y="175.44" width="7.15" height="6.8" fill="#e0e0e0"/>
<rect x="274.1" y="175.44" width="7.15" height="6.8" fill="#e0e0e0"/>
<rect x="282.25" y="175.44" width="7.15" height="6.8" fill="#e0e0e0"/>
<rect x="290.4" y="175.44" width="7.15" height="6.8" fill="#e0e0e0"/>
<rect x="314.4" y="175.44" width="7.43" height="6.8" fill="#e0e0e0"/>
<rect x="322.83" y="175.44" width="7.43" height="6.8" fill="#e0e0e0"/>
<rect x="331.26" y="175.44" width="7.43" height="6.8" fill="#e0e0e0"/>
<rect x="339.69" y="175.44" width="7.43" height="6.8" fill="#e0e0e0"/>
<rect x="348.12" y="175.44" width="7.43" height="6.8" fill="#e0e0e0"/>
<rect x="356.55" y="175.44" width="7.43" height="6.8" fill="#e0e0e0"/>
<rect x="364.98" y="175.44" width="7.43" height="6.8" fill="#e0e0e0"/>
<rect x="373.41" y="175.44" width="7.43" height="6.8" fill="#e0e0e0"/>
<rect x="111.1" y="183.06" width="7.15" height="6.8" fill="#e0e0e0"/>
<rect x="119.25" y="183.06" width="7.15" height="6.8" fill="#e0e0e0"/>
<rect x="127.4" y="183.06" width="7.15" height="6.8" fill="#e0e0e0"/>
<rect x="135.55" y="183.06" width="7.15" height="6.8" fill="#e0e0e0"/>
<rect x="143.7" y="183.06" width="7.15" height="6.8" fill="#e0e0e0"/>
<rect x="151.85" y="183.06" width="7.15" height="6.8" fill="#e0e0e0"/>
<rect x="160" y="183.06" width="7.15" height="6.8" fill="#e0e0e0"/>
<rect x="168.15" y="183.06" width="7.15" height="6.8" fill="#e0e0e0"/>
<rect x="176.3" y="183.06" width="7.15" height="6.8" fill="#e0e0e0"/>
<rect x="184.45" y="183.06" width="7.15" height="6.8" fill="#e0e0e0"/>
<rect x="192.6" y="183.06" width="7.15" height="6.8" fill="#e0e0e0"/>
<rect x="200.75" y="183.06" width="7.15" height="6.8" fill="#e0e0e0"/>
<rect x="208.9" y="183.06" width="7.15" height="6.8" fill="#e0e0e0"/>
<rect x="217.05" y="183.06" width="7.15" height="6.8" fill="#e0e0e0"/>
<rect x="225.2" y="183.06" width="7.15" height="6.8" fill="#e0e0e0"/>
<rect x="233.35" y="183.06" width="7.15" height="6.8" fill="#e0e0e0"/>
<rect x="241.5" y="183.06" width="7.15" height="6.8" fill="#e0e0e0"/>
<rect x="249.65" y="183.06" width="7.15" height="6.8" fill="#e0e0e0"/>
<rect x="257.8" y="183.06" width="7.15" height="6.8" fill="#e0e0e0"/>
<rect x="265.95" y="183.06" width="7.15" height="6.8" fill="#e0e0e0"/>
<rect x="274.1" y="183.06" width="7.15" height="6.8" fill="#e0e0e0"/>
<rect x="282.25" y="183.06" width="7.15" height="6.8" fill="#e0e0e0"/>
<rect x="290.4" y="183.06" width="7.15" height="6.8" fill="#e0e0e0"/>
<rect x="314.4" y="183.06" width="7.43" height="6.8" fill="#e0e0e0"/>
<rect x="322.83" y="183.06" width="7.43" height="6.8" fill="#e0e0e0"/>
<rect x="331.26" y="183.06" width="7.43" height="6.8" fill="#e0e0e0"/>
<rect x="339.69" y="183.06" width="7.43" height="6.8" fill="#e0e0e0"/>
<rect x="348.12" y="183.06" width="7.43" height="6.8" fill="#e0e0e0"/>
<rect x="356.55" y="183.06" width="7.43" height="6.8" fill="#e0e0e0"/>
<rect x="364.98" y="183.06" width="7.43" height="6.8" fill="#e0e0e0"/>
<rect x="373.41" y="183.06" width="7.43" height="6.8" fill="#e0e0e0"/>
<rect x="111.1" y="190.68" width="7.15" height="6.8" fill="#e0e0e0"/>
<rect x="119.25" y="190.68" width="7.15" height="6.8" fill="#e0e0e0"/>
<rect x="127.4" y="190.68" width="7.15" height="6.8" fill="#e0e0e0"/>
<rect x="135.55" y="190.68" width="7.15" height="6.8" fill="#e0e0e0"/>
<rect x="143.7" y="190.68" width="7.15" height="6.8" fill="#e0e0e0"/>
<rect x="151.85" y="190.68" width="7.15" height="6.8" fill="#e0e0e0"/>
<rect x="160" y="190.68" width="7.15" height="6.8" fill="#e0e0e0"/>
<rect x="168.15" y="190.68" width="7.15" height="6.8" fill="#e0e0e0"/>
<rect x="176.3" y="190.68" width="7.15" height="6.8" fill="#e0e0e0"/>
<rect x="184.45" y="190.68" width="7.15" height="6.8" fill="#e0e0e0"/>
<rect x="192.6" y="190.68" width="7.15" height="6.8" fill="#e0e0e0"/>
<rect x="200.75" y="190.68" width="7.15" height="6.8" fill="#e0e0e0"/>
<rect x="208.9" y="190.68" width="7.15" height="6.8" fill="#e0e0e0"/>
<rect x="217.05" y="190.68" width="7.15" height="6.8" fill="#e0e0e0"/>
<rect x="225.2" y="190.68" width="7.15" height="6.8" fill="#e0e0e0"/>
<rect x="233.35" y="190.68" width="7.15" height="6.8" fill="#e0e0e0"/>
<rect x="241.5" y="190.68" width="7.15" height="6.8" fill="#e0e0e0"/>
<rect x="249.65" y="190.68" width="7.15" height="6.8" fill="#e0e0e0"/>
<rect x="257.8" y="190.68" width="7.15" height="6.8" fill="#e0e0e0"/>
<rect x="265.95" y="190.68" width="7.15" height="6.8" fill="#e0e0e0"/>
<rect x="274.1" y="190.68" width="7.15" height="6.8" fill="#e0e0e0"/>
<rect x="282.25" y="190.68" width="7.15" height="6.8" fill="#e0e0e0"/>
<rect x="290.4" y="190.68" width="7.15" height="6.8" fill="#e0e0e0"/>
<rect x="314.4" y="190.68" width="7.43" height="6.8" fill="#e0e0e0"/>
<rect x="322.83" y="190.68" width="7.43" height="6.8" fill="#e0e0e0"/>
<rect x="331.26" y="190.68" width="7.43" height="6.8" fill="#e0e0e0"/>
<rect x="339.69" y="190.68" width="7.43" height="6.8" fill="#e0e0e0"/>
<rect x="348.12" y="190.68" width="7.43" height="6.8" fill="#e0e0e0"/>
<rect x="356.55" y="190.68" width="7.43" height="6.8" fill="#e0e0e0"/>
<rect x="364.98" y="190.68" width="7.43" height="6.8" fill="#e0e0e0"/>
<rect x="373.41" y="190.68" width="7.43" height="6.8" fill="#e0e0e0"/>
<rect x="111.1" y="198.3" width="7.15" height="6.8" fill="#e0e0e0"/>
<rect x="119.25" y="198.3" width="7.15" height="6.8" fill="#e0e0e0"/>
<rect x="127.4" y="198.3" width="7.15" height="6.8" fill="#e0e0e0"/>
<rect x="135.55" y="198.3" width="7.15" height="6.8" fill="#e0e0e0"/>
<rect x="143.7" y="198.3" width="7.15" height="6.8" fill="#e0e0e0"/>
<rect x="151.85" y="198.3" width="7.15" height="6.8" fill="#e0e0e0"/>
<rect x="160" y="198.3" width="7.15" height="6.8" fill="#e0e0e0"/>
<rect x="168.15" y="198.3" width="7.15" height="6.8" fill="#e0e0e0"/>
<rect x="176.3" y="198.3" width="7.15" height="6.8" fill="#e0e0e0"/>
<rect x="184.45" y="198.3" width="7.15" height="6.8" fill="#e0e0e0"/>
<rect x="192.6" y="198.3" width="7.15" height="6.8" fill="#e0e0e0"/>
<rect x="200.75" y="198.3" width="7.15" height="6.8" fill="#e0e0e0"/>
<rect x="208.9" y="198.3" width="7.15" height="6.8" fill="#e0e0e0"/>
<rect x="217.05" y="198.3" width="7.15" height="6.8" fill="#e0e0e0"/>
<rect x="225.2" y="198.3" width="7.15" height="6.8" fill="#e0e0e0"/>
<rect x="233.35" y="198.3" width="7.15" height="6.8" fill="#e0e0e0"/>
<rect x="241.5" y="198.3" width="7.15" height="6.8" fill="#e0e0e0"/>
<rect x="249.65" y="198.3" width="7.15" height="6.8" fill="#e0e0e0"/>
<rect x="257.8" y="198.3" width="7.15" height="6.8" fill="#e0e0e0"/>
<rect x="265.95" y="198.3" width="7.15" height="6.8" fill="#e0e0e0"/>
<rect x="274.1" y="198.3" width="7.15" height="6.8" fill="#e0e0e0"/>
<rect x="282.25" y="198.3" width="7.15" height="6.8" fill="#e0e0e0"/>
<rect x="290.4" y="198.3" width="7.15" height="6.8" fill="#e0e0e0"/>
<rect x="314.4" y="198.3" width="7.43" height="6.8" fill="#e0e0e0"/>
<rect x="322.83" y="198.3" width="7.43" height="6.8" fill="#e0e0e0"/>
<rect x="331.26" y="198.3" width="7.43" height="6.8" fill="#e0e0e0"/>
<rect x="339.69" y="198.3" width="7.43" height="6.8" fill="#e0e0e0"/>
<rect x="348.12" y="198.3" width="7.43" height="6.8" fill="#e0e0e0"/>
<rect x="356.55" y="198.3" width="7.43" height="6.8" fill="#e0e0e0"/>
<rect x="364.98" y="198.3" width="7.43" height="6.8" fill="#e0e0e0"/>
<rect x="373.41" y="198.3" width="7.43" height="6.8" fill="#e0e0e0"/>
<rect x="111.1" y="205.92" width="7.15" height="6.8" fill="#e0e0e0"/>
<rect x="119.25" y="205.92" width="7.15" height="6.8" fill="#e0e0e0"/>
<rect x="127.4" y="205.92" width="7.15" height="6.8" fill="#e0e0e0"/>
<rect x="135.55" y="205.92" width="7.15" height="6.8" fill="#e0e0e0"/>
<rect x="143.7" y="205.92" width="7.15" height="6.8" fill="#e0e0e0"/>
<rect x="151.85" y="205.92" width="7.15" height="6.8" fill="#e0e0e0"/>
<rect x="160" y="205.92" width="7.15" height="6.8" fill="#e0e0e0"/>
<rect x="168.15" y="205.92" width="7.15" height="6.8" fill="#e0e0e0"/>
<rect x="176.3" y="205.92" width="7.15" height="6.8" fill="#e0e0e0"/>
<rect x="184.45" y="205.92" width="7.15" height="6.8" fill="#e0e0e0"/>
<rect x="192.6" y="205.92" width="7.15" height="6.8" fill="#e0e0e0"/>
<rect x="200.75" y="205.92" width="7.15" height="6.8" fill="#e0e0e0"/>
<rect x="208.9" y="205.92" width="7.15" height="6.8" fill="#e0e0e0"/>
<rect x="217.05" y="205.92" width="7.15" height="6.8" fill="#e0e0e0"/>
<rect x="225.2" y="205.92" width="7.15" height="6.8" fill="#e0e0e0"/>
<rect x="233.35" y="205.92" width="7.15" height="6.8" fill="#e0e0e0"/>
<rect x="241.5" y="205.92" width="7.15" height="6.8" fill="#e0e0e0"/>
<rect x="249.65" y="205.92" width="7.15" height="6.8" fill="#e0e0e0"/>
<rect x="257.8" y="205.92" width="7.15" height="6.8" fill="#e0e0e0"/>
<rect x="265.95" y="205.92" width="7.15" height="6.8" fill="#e0e0e0"/>
<rect x="274.1" y="205.92" width="7.15" height="6.8" fill="#e0e0e0"/>
<rect x="282.25" y="205.92" width="7.15" height="6.8" fill="#e0e0e0"/>
<rect x="290.4" y="205.92" width="7.15" height="6.8" fill="#e0e0e0"/>
<rect x="314.4" y="205.92" width="7.43" height="6.8" fill="#e0e0e0"/>
<rect x="322.83" y="205.92" width="7.43" height="6.8" fill="#e0e0e0"/>
<rect x="331.26" y="205.92" width="7.43" height="6.8" fill="#e0e0e0"/>
<rect x="339.69" y="205.92" width="7.43" height="6.8" fill="#e0e0e0"/>
<rect x="348.12" y="205.92" width="7.43" height="6.8" fill="#e0e0e0"/>
<rect x="356.55" y="205.92" width="7.43" height="6.8" fill="#e0e0e0"/>
<rect x="364.98" y="205.92" width="7.43" height="6.8" fill="#e0e0e0"/>
<rect x="373.41" y="205.92" width="7.43" height="6.8" fill="#e0e0e0"/>
<rect x="111.1" y="213.54" width="7.15" height="6.8" fill="#e0e0e0"/>
<rect x="119.25" y="213.54" width="7.15" height="6.8" fill="#e0e0e0"/>
<rect x="127.4" y="213.54" width="7.15" height="6.8" fill="#e0e0e0"/>
<rect x="135.55" y="213.54" width="7.15" height="6.8" fill="#e0e0e0"/>
<rect x="143.7" y="213.54" width="7.15" height="6.8" fill="#e0e0e0"/>
<rect x="151.85" y="213.54" width="7.15" height="6.8" fill="#e0e0e0"/>
<rect x="160" y="213.54" width="7.15" height="6.8" fill="#e0e0e0"/>
<rect x="168.15" y="213.54" width="7.15" height="6.8" fill="#e0e0e0"/>
<rect x="176.3" y="213.54" width="7.15" height="6.8" fill="#e0e0e0"/>
<rect x="184.45" y="213.54" width="7.15" height="6.8" fill="#e0e0e0"/>
<rect x="192.6" y="213.54" width="7.15" height="6.8" fill="#e0e0e0"/>
<rect x="200.75" y="213.54" width="7.15" height="6.8" fill="#e0e0e0"/>
<rect x="208.9" y="213.54" width="7.15" height="6.8" fill="#e0e0e0"/>
<rect x="217.05" y="213.54" width="7.15" height="6.8" fill="#e0e0e0"/>
<rect x="225.2" y="213.54" width="7.15" height="6.8" fill="#e0e0e0"/>
<rect x="233.35" y="213.54" width="7.15" height="6.8" fill="#e0e0e0"/>
<rect x="241.5" y="213.54" width="7.15" height="6.8" fill="#e0e0e0"/>
<rect x="249.65" y="213.54" width="7.15" height="6.8" fill="#e0e0e0"/>
<rect x="257.8" y="213.54" width="7.15" height="6.8" fill="#e0e0e0"/>
<rect x="265.95" y="213.54" width="7.15" height="6.8" fill="#e0e0e0"/>
<rect x="274.1" y="213.54" width="7.15" height="6.8" fill="#e0e0e0"/>
<rect x="282.25" y="213.54" width="7.15" height="6.8" fill="#e0e0e0"/>
<rect x="290.4" y="213.54" width="7.15" height="6.8" fill="#e0e0e0"/>
<rect x="314.4" y="213.54" width="7.43" height="6.8" fill="#e0e0e0"/>
<rect x="322.83" y="213.54" width="7.43" height="6.8" fill="#e0e0e0"/>
<rect x="331.26" y="213.54" width="7.43" height="6.8" fill="#e0e0e0"/>
<rect x="339.69" y="213.54" width="7.43" height="6.8" fill="#e0e0e0"/>
<rect x="348.12" y="213.54" width="7.43" height="6.8" fill="#e0e0e0"/>
<rect x="356.55" y="213.54" width="7.43" height="6.8" fill="#e0e0e0"/>
<rect x="364.98" y="213.54" width="7.43" height="6.8" fill="#e0e0e0"/>
<rect x="373.41" y="213.54" width="7.43" height="6.8" fill="#e0e0e0"/>
<rect x="111.1" y="221.16" width="7.15" height="6.8" fill="#e0e0e0"/>
<rect x="119.25" y="221.16" width="7.15" height="6.8" fill="#e0e0e0"/>
<rect x="127.4" y="221.16" width="7.15" height="6.8" fill="#e0e0e0"/>
<rect x="135.55" y="221.16" width="7.15" height="6.8" fill="#e0e0e0"/>
<rect x="143.7" y="221.16" width="7.15" height="6.8" fill="#e0e0e0"/>
<rect x="151.85" y="221.16" width="7.15" height="6.8" fill="#e0e0e0"/>
<rect x="160" y="221.16" width="7.15" height="6.8" fill="#e0e0e0"/>
<rect x="168.15" y="221.16" width="7.15" height="6.8" fill="#e0e0e0"/>
<rect x="176.3" y="221.16" width="7.15" height="6.8" fill="#e0e0e0"/>
<rect x="184.45" y="221.16" width="7.15" height="6.8" fill="#e0e0e0"/>
<rect x="192.6" y="221.16" width="7.15" height="6.8" fill="#e0e0e0"/>
<rect x="200.75" y="221.16" width="7.15" height="6.8" fill="#e0e0e0"/>
<rect x="208.9" y="221.16" width="7.15" height="6.8" fill="#e0e0e0"/>
<rect x="217.05" y="221.16" width="7.15" height="6.8" fill="#e0e0e0"/>
<rect x="225.2" y="221.16" width="7.15" height="6.8" fill="#e0e0e0"/>
<rect x="233.35" y="221.16" width="7.15" height="6.8" fill="#e0e0e0"/>
<rect x="241.5" y="221.16" width="7.15" height="6.8" fill="#e0e0e0"/>
<rect x="249.65" y="221.16" width="7.15" height="6.8" fill="#e0e0e0"/>
<rect x="257.8" y="221.16" width="7.15" height="6.8" fill="#e0e0e0"/>
<rect x="265.95" y="221.16" width="7.15" height="6.8" fill="#e0e0e0"/>
<rect x="274.1" y="221.16" width="7.15" height="6.8" fill="#e0e0e0"/>
<rect x="282.25" y="221.16" width="7.15" height="6.8" fill="#e0e0e0"/>
<rect x="290.4" y="221.16" width="7.15" height="6.8" fill="#e0e0e0"/>
<rect x="314.4" y="221.16" width="7.43" height="6.8" fill="#e0e0e0"/>
<rect x="322.83" y="221.16" width="7.43" height="6.8" fill="#e0e0e0"/>
<rect x="331.26" y="221.16" width="7.43" height="6.8" fill="#e0e0e0"/>
<rect x="339.69" y="221.16" width="7.43" height="6.8" fill="#e0e0e0"/>
<rect x="348.12" y="221.16" width="7.43" height="6.8" fill="#e0e0e0"/>
<rect x="356.55" y="221.16" width="7.43" height="6.8" fill="#e0e0e0"/>
<rect x="364.98" y="221.16" width="7.43" height="6.8" fill="#e0e0e0"/>
<rect x="373.41" y="221.16" width="7.43" height="6.8" fill="#e0e0e0"/>
<rect x="111.1" y="228.78" width="7.15" height="6.8" fill="#e0e0e0"/>
<rect x="119.25" y="228.78" width="7.15" height="6.8" fill="#e0e0e0"/>
<rect x="127.4" y="228.78" width="7.15" height="6.8" fill="#e0e0e0"/>
<rect x="135.55" y="228.78" width="7.15" height="6.8" fill="#e0e0e0"/>
<rect x="143.7" y="228.78" width="7.15" height="6.8" fill="#e0e0e0"/>
<rect x="151.85" y="228.78" width="7.15" height="6.8" fill="#e0e0e0"/>
<rect x="160" y="228.78" width="7.15" height="6.8" fill="#e0e0e0"/>
<rect x="168.15" y="228.78" width="7.15" height="6.8" fill="#e0e0e0"/>
<rect x="176.3" y="228.78" width="7.15" height="6.8" fill="#e0e0e0"/>
<rect x="184.45" y="228.78" width="7.15" height="6.8" fill="#e0e0e0"/>
<rect x="192.6" y="228.78" width="7.15" height="6.8" fill="#e0e0e0"/>
<rect x="200.75" y="228.78" width="7.15" height="6.8" fill="#e0e0e0"/>
<rect x="208.9" y="228.78" width="7.15" height="6.8" fill="#e0e0e0"/>
<rect x="217.05" y="228.78" width="7.15" height="6.8" fill="#e0e0e0"/>
<rect x="225.2" y="228.78" width="7.15" height="6.8" fill="#e0e0e0"/>
<rect x="233.35" y="228.78" width="7.15" height="6.8" fill="#e0e0e0"/>
<rect x="241.5" y="228.78" width="7.15" height="6.8" fill="#e0e0e0"/>
<rect x="249.65" y="228.78" width="7.15" height="6.8" fill="#e0e0e0"/>
<rect x="257.8" y="228.78" width="7.15" height="6.8" fill="#e0e0e0"/>
<rect x="265.95" y="228.78" width="7.15" height="6.8" fill="#e0e0e0"/>
<rect x="274.1" y="228.78" width="7.15" height="6.8" fill="#e0e0e0"/>
<rect x="282.25" y="228.78" width="7.15" height="6.8" fill="#e0e0e0"/>
<rect x="290.4" y="228.78" width="7.15" height="6.8" fill="#e0e0e0"/>
<rect x="314.4" y="228.78" width="7.43" height="6.8" fill="#e0e0e0"/>
<rect x="322.83" y="228.78" width="7.43" height="6.8" fill="#e0e0e0"/>
<rect x="331.26" y="228.78" width="7.43" height="6.8" fill="#e0e0e0"/>
<rect x="339.69" y="228.78" width="7.43" height="6.8" fill="#e0e0e0"/>
<rect x="348.12" y="228.78" width="7.43" height="6.8" fill="#e0e0e0"/>
<rect x="356.55" y="228.78" width="7.43" height="6.8" fill="#e0e0e0"/>
<rect x="364.98" y="228.78" width="7.43" height="6.8" fill="#e0e0e0"/>
<rect x="373.41" y="228.78" width="7.43" height="6.8" fill="#e0e0e0"/>
<rect x="111.1" y="236.4" width="7.15" height="6.8" fill="#e0e0e0"/>
<rect x="119.25" y="236.4" width="7.15" height="6.8" fill="#e0e0e0"/>
<rect x="127.4" y="236.4" width="7.15" height="6.8" fill="#e0e0e0"/>
<rect x="135.55" y="236.4" width="7.15" height="6.8" fill="#e0e0e0"/>
<rect x="143.7" y="236.4" width="7.15" height="6.8" fill="#e0e0e0"/>
<rect x="151.85" y="236.4" width="7.15" height="6.8" fill="#e0e0e0"/>
<rect x="160" y="236.4" width="7.15" height="6.8" fill="#e0e0e0"/>
<rect x="168.15" y="236.4" width="7.15" height="6.8" fill="#e0e0e0"/>
<rect x="176.3" y="236.4" width="7.15" height="6.8" fill="#e0e0e0"/>
<rect x="184.45" y="236.4" width="7.15" height="6.8" fill="#e0e0e0"/>
<rect x="192.6" y="236.4" width="7.15" height="6.8" fill="#e0e0e0"/>
<rect x="200.75" y="236.4" width="7.15" height="6.8" fill="#e0e0e0"/>
<rect x="208.9" y="236.4" width="7.15" height="6.8" fill="#e0e0e0"/>
<rect x="217.05" y="236.4" width="7.15" height="6.8" fill="#e0e0e0"/>
<rect x="225.2" y="236.4" width="7.15" height="6.8" fill="#e0e0e0"/>
<rect x="233.35" y="236.4" width="7.15" height="6.8" fill="#e0e0e0"/>
<rect x="241.5" y="236.4" width="7.15" height="6.8" fill="#e0e0e0"/>
<rect x="249.65" y="236.4" width="7.15" height="6.8" fill="#e0e0e0"/>
<rect x="257.8" y="236.4" width="7.15" height="6.8" fill="#e0e0e0"/>
<rect x="265.95" y="236.4" width="7.15" height="6.8" fill="#e0e0e0"/>
<rect x="274.1" y="236.4" width="7.15" height="6.8" fill="#e0e0e0"/>
<rect x="282.25" y="236.4" width="7.15" height="6.8" fill="#e0e0e0"/>
<rect x="290.4" y="236.4" width="7.15" height="6.8" fill="#e0e0e0"/>
<rect x="314.4" y="236.4" width="7.43" height="6.8" fill="#e0e0e0"/>
<rect x="322.83" y="236.4" width="7.43" height="6.8" fill="#e0e0e0"/>
<rect x="331.26" y="236.4" width="7.43" height="6.8" fill="#e0e0e0"/>
<rect x="339.69" y="236.4" width="7.43" height="6.8" fill="#e0e0e0"/>
<rect x="348.12" y="236.4" width="7.43" height="6.8" fill="#e0e0e0"/>
<rect x="356.55" y="236.4" width="7.43" height="6.8" fill="#e0e0e0"/>
<rect x="364.98" y="236.4" width="7.43" height="6.8" fill="#e0e0e0"/>
<rect x="373.41" y="236.4" width="7.43" height="6.8" fill="#e0e0e0"/>
<rect x="111.1" y="244.02" width="7.15" height="6.8" fill="#e0e0e0"/>
<rect x="119.25" y="244.02" width="7.15" height="6.8" fill="#e0e0e0"/>
<rect x="127.4" y="244.02" width="7.15" height="6.8" fill="#e0e0e0"/>
<rect x="135.55" y="244.02" width="7.15" height="6.8" fill="#e0e0e0"/>
<rect x="143.7" y="244.02" width="7.15" height="6.8" fill="#e0e0e0"/>
<rect x="151.85" y="244.02" width="7.15" height="6.8" fill="#e0e0e0"/>
<rect x="160" y="244.02" width="7.15" height="6.8" fill="#e0e0e0"/>
<rect x="168.15" y="244.02" width="7.15" height="6.8" fill="#e0e0e0"/>
<rect x="176.3" y="244.02" width="7.15" height="6.8" fill="#e0e0e0"/>
<rect x="184.45" y="244.02" width="7.15" height="6.8" fill="#e0e0e0"/>
<rect x="192.6" y="244.02" width="7.15" height="6.8" fill="#e0e0e0"/>
<rect x="200.75" y="244.02" width="7.15" height="6.8" fill="#e0e0e0"/>
<rect x="208.9" y="244.02" width="7.15" height="6.8" fill="#e0e0e0"/>
<rect x="217.05" y="244.02" width="7.15" height="6.8" fill="#e0e0e0"/>
<rect x="225.2" y="244.02" width="7.15" height="6.8" fill="#e0e0e0"/>
<rect x="233.35" y="244.02" width="7.15" height="6.8" fill="#e0e0e0"/>
<rect x="241.5" y="244.02" width="7.15" height="6.8" fill="#e0e0e0"/>
<rect x="249.65" y="244.02" width="7.15" height="6.8" fill="#e0e0e0"/>
<rect x="257.8" y="244.02" width="7.15" height="6.8" fill="#e0e0e0"/>
<rect x="265.95" y="244.02" width="7.15" height="6.8" fill="#e0e0e0"/>
<rect x="274.1" y="244.02" width="7.15" height="6.8" fill="#e0e0e0"/>
<rect x="282.25" y="244.02" width="7.15" height="6.8" fill="#e0e0e0"/>
<rect x="290.4" y="244.02" width="7.15" height="6.8" fill="#e0e0e0"/>
<rect x="314.4" y="244.02" width="7.43" height="6.8" fill="#e0e0e0"/>
<rect x="322.83" y="244.02" width="7.43" height="6.8" fill="#e0e0e0"/>
<rect x="331.26" y="244.02" width="7.43" height="6.8" fill="#e0e0e0"/>
<rect x="339.69" y="244.02" width="7.43" height="6.8" fill="#e0e0e0"/>
<rect x="348.12" y="244.02" width="7.43" height="6.8" fill="#e0e0e0"/>
<rect x="356.55" y="244.02" width="7.43" height="6.8" fill="#e0e0e0"/>
<rect x="364.98" y="244.02" width="7.43" height="6.8" fill="#e0e0e0"/>
<rect x="373.41" y="244.02" width="7.43" height="6.8" fill="#e0e0e0"/>
<rect x="111.1" y="251.64" width="7.15" height="6.8" fill="#e0e0e0"/>
<rect x="119.25" y="251.64" width="7.15" height="6.8" fill="#e0e0e0"/>
<rect x="127.4" y="251.64" width="7.15" height="6.8" fill="#e0e0e0"/>
<rect x="135.55" y="251.64" width="7.15" height="6.8" fill="#e0e0e0"/>
<rect x="143.7" y="251.64" width="7.15" height="6.8" fill="#e0e0e0"/>
<rect x="151.85" y="251.64" width="7.15" height="6.8" fill="#e0e0e0"/>
<rect x="160" y="251.64" width="7.15" height="6.8" fill="#e0e0e0"/>
<rect x="168.15" y="251.64" width="7.15" height="6.8" fill="#e0e0e0"/>
<rect x="176.3" y="251.64" width="7.15" height="6.8" fill="#e0e0e0"/>
<rect x="184.45" y="251.64" width="7.15" height="6.8" fill="#e0e0e0"/>
<rect x="192.6" y="251.64" width="7.15" height="6.8" fill="#e0e0e0"/>
<rect x="200.75" y="251.64" width="7.15" height="6.8" fill="#e0e0e0"/>
<rect x="208.9" y="251.64" width="7.15" height="6.8" fill="#e0e0e0"/>
<rect x="217.05" y="251.64" width="7.15" height="6.8" fill="#e0e0e0"/>
<rect x="225.2" y="251.64" width="7.15" height="6.8" fill="#e0e0e0"/>
<rect x="233.35" y="251.64" width="7.15" height="6.8" fill="#e0e0e0"/>
<rect x="241.5" y="251.64" width="7.15" height="6.8" fill="#e0e0e0"/>
<rect x="249.65" y="251.64" width="7.15" height="6.8" fill="#e0e0e0"/>
<rect x="257.8" y="251.64" width="7.15" height="6.8" fill="#e0e0e0"/>
<rect x="265.95" y="251.64" width="7.15" height="6.8" fill="#e0e0e0"/>
<rect x="274.1" y="251.64" width="7.15" height="6.8" fill="#e0e0e0"/>
<rect x="282.25" y="251.64" width="7.15" height="6.8" fill="#e0e0e0"/>
<rect x="290.4" y="251.64" width="7.15" height="6.8" fill="#e0e0e0"/>
<rect x="314.4" y="251.64" width="7.43" height="6.8" fill="#e0e0e0"/>
<rect x="322.83" y="251.64" width="7.43" height="6.8" fill="#e0e0e0"/>
<rect x="331.26" y="251.64" width="7.43" height="6.8" fill="#e0e0e0"/>
<rect x="339.69" y="251.64" width="7.43" height="6.8" fill="#e0e0e0"/>
<rect x="348.12" y="251.64" width="7.43" height="6.8" fill="#e0e0e0"/>
<rect x="356.55" y="251.64" width="7.43" height="6.8" fill="#e0e0e0"/>
<rect x="364.98" y="251.64" width="7.43" height="6.8" fill="#e0e0e0"/>
<rect x="373.41" y="251.64" width="7.43" height="6.8" fill="#e0e0e0"/>
<rect x="111.1" y="259.26" width="7.15" height="6.8" fill="#e0e0e0"/>
<rect x="119.25" y="259.26" width="7.15" height="6.8" fill="#e0e0e0"/>
<rect x="127.4" y="259.26" width="7.15" height="6.8" fill="#e0e0e0"/>
<rect x="135.55" y="259.26" width="7.15" height="6.8" fill="#e0e0e0"/>
<rect x="143.7" y="259.26" width="7.15" height="6.8" fill="#e0e0e0"/>
<rect x="151.85" y="259.26" width="7.15" height="6.8" fill="#e0e0e0"/>
<rect x="160" y="259.26" width="7.15" height="6.8" fill="#e0e0e0"/>
<rect x="168.15" y="259.26" width="7.15" height="6.8" fill="#e0e0e0"/>
<rect x="176.3" y="259.26" width="7.15" height="6.8" fill="#e0e0e0"/>
<rect x="184.45" y="259.26" width="7.15" height="6.8" fill="#e0e0e0"/>
<rect x="192.6" y="259.26" width="7.15" height="6.8" fill="#e0e0e0"/>
<rect x="200.75" y="259.26" width="7.15" height="6.8" fill="#e0e0e0"/>
<rect x="208.9" y="259.26" width="7.15" height="6.8" fill="#e0e0e0"/>
<rect x="217.05" y="259.26" width="7.15" height="6.8" fill="#e0e0e0"/>
<rect x="225.2" y="259.26" width="7.15" height="6.8" fill="#e0e0e0"/>
<rect x="233.35" y="259.26" width="7.15" height="6.8" fill="#e0e0e0"/>
<rect x="241.5" y="259.26" width="7.15" height="6.8" fill="#e0e0e0"/>
<rect x="249.65" y="259.26" width="7.15" height="6.8" fill="#e0e0e0"/>
<rect x="257.8" y="259.26" width="7.15" height="6.8" fill="#e0e0e0"/>
<rect x="265.95" y="259.26" width="7.15" height="6.8" fill="#e0e0e0"/>
<rect x="274.1" y="259.26" width="7.15" height="6.8" fill="#e0e0e0"/>
<rect x="282.25" y="259.26" width="7.15" height="6.8" fill="#e0e0e0"/>
<rect x="290.4" y="259.26" width="7.15" height="6.8" fill="#e0e0e0"/>
<rect x="314.4" y="259.26" width="7.43" height="6.8" fill="#e0e0e0"/>
<rect x="322.83" y="259.26" width="7.43" height="6.8" fill="#e0e0e0"/>
<rect x="331.26" y="259.26" width="7.43" height="6.8" fill="#e0e0e0"/>
<rect x="339.69" y="259.26" width="7.43" height="6.8" fill="#e0e0e0"/>
<rect x="348.12" y="259.26" width="7.43" height="6.8" fill="#e0e0e0"/>
<rect x="356.55" y="259.26" width="7.43" height="6.8" fill="#e0e0e0"/>
<rect x="364.98" y="259.26" width="7.43" height="6.8" fill="#e0e0e0"/>
<rect x="373.41" y="259.26" width="7.43" height="6.8" fill="#e0e0e0"/>
<rect x="111.1" y="266.88" width="7.15" height="6.8" fill="#e0e0e0"/>
<rect x="119.25" y="266.88" width="7.15" height="6.8" fill="#e0e0e0"/>
<rect x="127.4" y="266.88" width="7.15" height="6.8" fill="#e0e0e0"/>
<rect x="135.55" y="266.88" width="7.15" height="6.8" fill="#e0e0e0"/>
<rect x="143.7" y="266.88" width="7.15" height="6.8" fill="#e0e0e0"/>
<rect x="151.85" y="266.88" width="7.15" height="6.8" fill="#e0e0e0"/>
<rect x="160" y="266.88" width="7.15" height="6.8" fill="#e0e0e0"/>
<rect x="168.15" y="266.88" width="7.15" height="6.8" fill="#e0e0e0"/>
<rect x="176.3" y="266.88" width="7.15" height="6.8" fill="#e0e0e0"/>
<rect x="184.45" y="266.88" width="7.15" height="6.8" fill="#e0e0e0"/>
<rect x="192.6" y="266.88" width="7.15" height="6.8" fill="#e0e0e0"/>
<rect x="200.75" y="266.88" width="7.15" height="6.8" fill="#e0e0e0"/>
<rect x="208.9" y="266.88" width="7.15" height="6.8" fill="#e0e0e0"/>
<rect x="217.05" y="266.88" width="7.15" height="6.8" fill="#e0e0e0"/>
<rect x="225.2" y="266.88" width="7.15" height="6.8" fill="#e0e0e0"/>
<rect x="233.35" y="266.88" width="7.15" height="6.8" fill="#e0e0e0"/>
<rect x="241.5" y="266.88" width="7.15" height="6.8" fill="#e0e0e0"/>
<rect x="249.65" y="266.88" width="7.15" height="6.8" fill="#e0e0e0"/>
<rect x="257.8" y="266.88" width="7.15" height="6.8" fill="#e0e0e0"/>
<rect x="265.95" y="266.88" width="7.15" height="6.8" fill="#e0e0e0"/>
<rect x="274.1" y="266.88" width="7.15" height="6.8" fill="#e0e0e0"/>
<rect x="282.25" y="266.88" width="7.15" height="6.8" fill="#e0e0e0"/>
<rect x="290.4" y="266.88" width="7.15" height="6.8" fill="#e0e0e0"/>
<rect x="314.4" y="266.88" width="7.43" height="6.8" fill="#e0e0e0"/>
<rect x="322.83" y="266.88" width="7.43" height="6.8" fill="#e0e0e0"/>
<rect x="331.26" y="266.88" width="7.43" height="6.8" fill="#e0e0e0"/>
<rect x="339.69" y="266.88" width="7.43" height="6.8" fill="#e0e0e0"/>
<rect x="348.12" y="266.88" width="7.43" height="6.8" fill="#e0e0e0"/>
<rect x="356.55" y="266.88" width="7.43" height="6.8" fill="#e0e0e0"/>
<rect x="364.98" y="266.88" width="7.43" height="6.8" fill="#e0e0e0"/>
<rect x="373.41" y="266.88" width="7.43" height="6.8" fill="#e0e0e0"/>
<rect x="111.1" y="274.5" width="7.15" height="6.8" fill="#e0e0e0"/>
<rect x="119.25" y="274.5" width="7.15" height="6.8" fill="#e0e0e0"/>
<rect x="127.4" y="274.5" width="7.15" height="6.8" fill="#e0e0e0"/>
<rect x="135.55" y="274.5" width="7.15" height="6.8" fill="#e0e0e0"/>
<rect x="143.7" y="274.5" width="7.15" height="6.8" fill="#e0e0e0"/>
<rect x="151.85" y="274.5" width="7.15" height="6.8" fill="#e0e0e0"/>
<rect x="160" y="274.5" width="7.15" height="6.8" fill="#e0e0e0"/>
<rect x="168.15" y="274.5" width="7.15" height="6.8" fill="#e0e0e0"/>
<rect x="176.3" y="274.5" width="7.15" height="6.8" fill="#e0e0e0"/>
<rect x="184.45" y="274.5" width="7.15" height="6.8" fill="#e0e0e0"/>
<rect x="192.6" y="274.5" width="7.15" height="6.8" fill="#e0e0e0"/>
<rect x="200.75" y="274.5" width="7.15" height="6.8" fill="#e0e0e0"/>
<rect x="208.9" y="274.5" width="7.15" height="6.8" fill="#e0e0e0"/>
<rect x="217.05" y="274.5" width="7.15" height="6.8" fill="#e0e0e0"/>
<rect x="225.2" y="274.5" width="7.15" height="6.8" fill="#e0e0e0"/>
<rect x="233.35" y="274.5" width="7.15" height="6.8" fill="#e0e0e0"/>
<rect x="241.5" y="274.5" width="7.15" height="6.8" fill="#e0e0e0"/>
<rect x="249.65" y="274.5" width="7.15" height="6.8" fill="#e0e0e0"/>
<rect x="257.8" y="274.5" width="7.15" height="6.8" fill="#e0e0e0"/>
<rect x="265.95" y="274.5" width="7.15" height="6.8" fill="#e0e0e0"/>
<rect x="274.1" y="274.5" width="7.15" height="6.8" fill="#e0e0e0"/>
<rect x="282.25" y="274.5" width="7.15" height="6.8" fill="#e0e0e0"/>
<rect x="290.4" y="274.5" width="7.15" height="6.8" fill="#e0e0e0"/>
<rect x="314.4" y="274.5" width="7.43" height="6.8" fill="#e0e0e0"/>
<rect x="322.83" y="274.5" width="7.43" height="6.8" fill="#e0e0e0"/>
<rect x="331.26" y="274.5" width="7.43" height="6.8" fill="#e0e0e0"/>
<rect x="339.69" y="274.5" width="7.43" height="6.8" fill="#e0e0e0"/>
<rect x="348.12" y="274.5" width="7.43" height="6.8" fill="#e0e0e0"/>
<rect x="356.55" y="274.5" width="7.43" height="6.8" fill="#e0e0e0"/>
<rect x="364.98" y="274.5" width="7.43" height="6.8" fill="#e0e0e0"/>
<rect x="373.41" y="274.5" width="7.43" height="6.8" fill="#e0e0e0"/>
<rect x="111.1" y="282.12" width="7.15" height="6.8" fill="#e0e0e0"/>
<rect x="119.25" y="282.12" width="7.15" height="6.8" fill="#e0e0e0"/>
<rect x="127.4" y="282.12" width="7.15" height="6.8" fill="#e0e0e0"/>
<rect x="135.55" y="282.12" width="7.15" height="6.8" fill="#e0e0e0"/>
<rect x="143.7" y="282.12" width="7.15" height="6.8" fill="#e0e0e0"/>
<rect x="151.85" y="282.12" width="7.15" height="6.8" fill="#e0e0e0"/>
<rect x="160" y="282.12" width="7.15" height="6.8" fill="#e0e0e0"/>
<rect x="168.15" y="282.12" width="7.15" height="6.8" fill="#e0e0e0"/>
<rect x="176.3" y="282.12" width="7.15" height="6.8" fill="#e0e0e0"/>
<rect x="184.45" y="282.12" width="7.15" height="6.8" fill="#e0e0e0"/>
<rect x="192.6" y="282.12" width="7.15" height="6.8" fill="#e0e0e0"/>
<rect x="200.75" y="282.12" width="7.15" height="6.8" fill="#e0e0e0"/>
<rect x="208.9" y="282.12" width="7.15" height="6.8" fill="#e0e0e0"/>
<rect x="217.05" y="282.12" width="7.15" height="6.8" fill="#e0e0e0"/>
<rect x="225.2" y="282.12" width="7.15" height="6.8" fill="#e0e0e0"/>
<rect x="233.35" y="282.12" width="7.15" height="6.8" fill="#e0e0e0"/>
<rect x="241.5" y="282.12" width="7.15" height="6.8" fill="#e0e0e0"/>
<rect x="249.65" y="282.12" width="7.15" height="6.8" fill="#e0e0e0"/>
<rect x="257.8" y="282.12" width="7.15" height="6.8" fill="#e0e0e0"/>
<rect x="265.95" y="282.12" width="7.15" height="6.8" fill="#e0e0e0"/>
<rect x="274.1" y="282.12" width="7.15" height="6.8" fill="#e0e0e0"/>
<rect x="282.25" y="282.12" width="7.15" height="6.8" fill="#e0e0e0"/>
<rect x="290.4" y="282.12" width="7.15" height="6.8" fill="#e0e0e0"/>
<rect x="314.4" y="282.12" width="7.43" height="6.8" fill="#e0e0e0"/>
<rect x="322.83" y="282.12" width="7.43" height="6.8" fill="#e0e0e0"/>
<rect x="331.26" y="282.12" width="7.43" height="6.8" fill="#e0e0e0"/>
<rect x="339.69" y="282.12" width="7.43" height="6.8" fill="#e0e0e0"/>
<rect x="348.12" y="282.12" width="7.43" height="6.8" fill="#e0e0e0"/>
<rect x="356.55" y="282.12" width="7.43" height="6.8" fill="#e0e0e0"/>
<rect x="364.98" y="282.12" width="7.43" height="6.8" fill="#e0e0e0"/>
<rect x="373.41" y="282.12" width="7.43" height="6.8" fill="#e0e0e0"/>
<rect x="111.1" y="289.74" width="7.15" height="6.8" fill="#e0e0e0"/>
<rect x="119.25" y="289.74" width="7.15" height="6.8" fill="#e0e0e0"/>
<rect x="127.4" y="289.74" width="7.15" height="6.8" fill="#e0e0e0"/>
<rect x="135.55" y="289.74" width="7.15" height="6.8" fill="#e0e0e0"/>
<rect x="143.7" y="289.74" width="7.15" height="6.8" fill="#e0e0e0"/>
<rect x="151.85" y="289.74" width="7.15" height="6.8" fill="#e0e0e0"/>
<rect x="160" y="289.74" width="7.15" height="6.8" fill="#e0e0e0"/>
<rect x="168.15" y="289.74" width="7.15" height="6.8" fill="#e0e0e0"/>
<rect x="176.3" y="289.74" width="7.15" height="6.8" fill="#e0e0e0"/>
<rect x="184.45" y="289.74" width="7.15" height="6.8" fill="#e0e0e0"/>
<rect x="192.6" y="289.74" width="7.15" height="6.8" fill="#e0e0e0"/>
<rect x="200.75" y="289.74" width="7.15" height="6.8" fill="#e0e0e0"/>
<rect x="208.9" y="289.74" width="7.15" height="6.8" fill="#e0e0e0"/>
<rect x="217.05" y="289.74" width="7.15" height="6.8" fill="#e0e0e0"/>
<rect x="225.2" y="289.74" width="7.15" height="6.8" fill="#e0e0e0"/>
<rect x="233.35" y="289.74" width="7.15" height="6.8" fill="#e0e0e0"/>
<rect x="241.5" y="289.74" width="7.15" height="6.8" fill="#e0e0e0"/>
<rect x="249.65" y="289.74" width="7.15" height="6.8" fill="#e0e0e0"/>
<rect x="257.8" y="289.74" width="7.15" height="6.8" fill="#e0e0e0"/>
<rect x="265.95" y="289.74" width="7.15" height="6.8" fill="#e0e0e0"/>
<rect x="274.1" y="289.74" width="7.15" height="6.8" fill="#e0e0e0"/>
<rect x="282.25" y="289.74" width="7.15" height="6.8" fill="#e0e0e0"/>
<rect x="290.4" y="289.74" width="7.15" height="6.8" fill="#e0e0e0"/>
<rect x="314.4" y="289.74" width="7.43" height="6.8" fill="#e0e0e0"/>
<rect x="322.83" y="289.74" width="7.43" height="6.8" fill="#e0e0e0"/>
<rect x="331.26" y="289.74" width="7.43" height="6.8" fill="#e0e0e0"/>
<rect x="339.69" y="289.74" width="7.43" height="6.8" fill="#e0e0e0"/>
<rect x="348.12" y="289.74" width="7.43" height="6.8" fill="#e0e0e0"/>
<rect x="356.55" y="289.74" width="7.43" height="6.8" fill="#e0e0e0"/>
<rect x="364.98" y="289.74" width="7.43" height="6.8" fill="#e0e0e0"/>
<rect x="373.41" y="289.74" width="7.43" height="6.8" fill="#e0e0e0"/>
<rect x="111.1" y="297.36" width="7.15" height="6.8" fill="#e0e0e0"/>
<rect x="119.25" y="297.36" width="7.15" height="6.8" fill="#e0e0e0"/>
<rect x="127.4" y="297.36" width="7.15" height="6.8" fill="#e0e0e0"/>
<rect x="135.55" y="297.36" width="7.15" height="6.8" fill="#e0e0e0"/>
<rect x="143.7" y="297.36" width="7.15" height="6.8" fill="#e0e0e0"/>
<rect x="151.85" y="297.36" width="7.15" height="6.8" fill="#e0e0e0"/>
<rect x="160" y="297.36" width="7.15" height="6.8" fill="#e0e0e0"/>
<rect x="168.15" y="297.36" width="7.15" height="6.8" fill="#e0e0e0"/>
<rect x="176.3" y="297.36" width="7.15" height="6.8" fill="#e0e0e0"/>
<rect x="184.45" y="297.36" width="7.15" height="6.8" fill="#e0e0e0"/>
<rect x="192.6" y="297.36" width="7.15" height="6.8" fill="#e0e0e0"/>
<rect x="200.75" y="297.36" width="7.15" height="6.8" fill="#e0e0e0"/>
<rect x="208.9" y="297.36" width="7.15" height="6.8" fill="#e0e0e0"/>
<rect x="217.05" y="297.36" width="7.15" height="6.8" fill="#e0e0e0"/>
<rect x="225.2" y="297.36" width="7.15" height="6.8" fill="#e0e0e0"/>
<rect x="233.35" y="297.36" width="7.15" height="6.8" fill="#e0e0e0"/>
<rect x="241.5" y="297.36" width="7.15" height="6.8" fill="#e0e0e0"/>
<rect x="249.65" y="297.36" width="7.15" height="6.8" fill="#e0e0e0"/>
<rect x="257.8" y="297.36" width="7.15" height="6.8" fill="#e0e0e0"/>
<rect x="265.95" y="297.36" width="7.15" height="6.8" fill="#e0e0e0"/>
<rect x="274.1" y="297.36" width="7.15" height="6.8" fill="#e0e0e0"/>
<rect x="282.25" y="297.36" width="7.15" height="6.8" fill="#e0e0e0"/>
<rect x="290.4" y="297.36" width="7.15" height="6.8" fill="#e0e0e0"/>
<rect x="314.4" y="297.36" width="7.43" height="6.8" fill="#e0e0e0"/>
<rect x="322.83" y="297.36" width="7.43" height="6.8" fill="#e0e0e0"/>
<rect x="331.26" y="297.36" width="7.43" height="6.8" fill="#e0e0e0"/>
<rect x="339.69" y="297.36" width="7.43" height="6.8" fill="#e0e0e0"/>
<rect x="348.12" y="297.36" width="7.43" height="6.8" fill="#e0e0e0"/>
<rect x="356.55" y="297.36" width="7.43" height="6.8" fill="#e0e0e0"/>
<rect x="364.98" y="297.36" width="7.43" height="6.8" fill="#e0e0e0"/>
<rect x="373.41" y="297.36" width="7.43" height="6.8" fill="#e0e0e0"/>
<rect x="111.1" y="304.98" width="7.15" height="6.8" fill="#e0e0e0"/>
<rect x="119.25" y="304.98" width="7.15" height="6.8" fill="#e0e0e0"/>
<rect x="127.4" y="304.98" width="7.15" height="6.8" fill="#e0e0e0"/>
<rect x="135.55" y="304.98" width="7.15" height="6.8" fill="#e0e0e0"/>
<rect x="143.7" y="304.98" width="7.15" height="6.8" fill="#e0e0e0"/>
<rect x="151.85" y="304.98" width="7.15" height="6.8" fill="#e0e0e0"/>
<rect x="160" y="304.98" width="7.15" height="6.8" fill="#e0e0e0"/>
<rect x="168.15" y="304.98" width="7.15" height="6.8" fill="#e0e0e0"/>
<rect x="176.3" y="304.98" width="7.15" height="6.8" fill="#e0e0e0"/>
<rect x="184.45" y="304.98" width="7.15" height="6.8" fill="#e0e0e0"/>
<rect x="192.6" y="304.98" width="7.15" height="6.8" fill="#e0e0e0"/>
<rect x="200.75" y="304.98" width="7.15" height="6.8" fill="#e0e0e0"/>
<rect x="208.9" y="304.98" width="7.15" height="6.8" fill="#e0e0e0"/>
<rect x="217.05" y="304.98" width="7.15" height="6.8" fill="#e0e0e0"/>
<rect x="225.2" y="304.98" width="7.15" height="6.8" fill="#e0e0e0"/>
<rect x="233.35" y="304.98" width="7.15" height="6.8" fill="#e0e0e0"/>
<rect x="241.5" y="304.98" width="7.15" height="6.8" fill="#e0e0e0"/>
<rect x="249.65" y="304.98" width="7.15" height="6.8" fill="#e0e0e0"/>
<rect x="257.8" y="304.98" width="7.15" height="6.8" fill="#e0e0e0"/>
<rect x="265.95" y="304.98" width="7.15" height="6.8" fill="#e0e0e0"/>
<rect x="274.1" y="304.98" width="7.15" height="6.8" fill="#e0e0e0"/>
<rect x="282.25" y="304.98" width="7.15" height="6.8" fill="#e0e0e0"/>
<rect x="290.4" y="304.98" width="7.15" height="6.8" fill="#e0e0e0"/>
<rect x="314.4" y="304.98" width="7.43" height="6.8" fill="#e0e0e0"/>
<rect x="322.83" y="304.98" width="7.43" height="6.8" fill="#e0e0e0"/>
<rect x="331.26" y="304.98" width="7.43" height="6.8" fill="#e0e0e0"/>
<rect x="339.69" y="304.98" width="7.43" height="6.8" fill="#e0e0e0"/>
<rect x="348.12" y="304.98" width="7.43" height="6.8" fill="#e0e0e0"/>
<rect x="356.55" y="304.98" width="7.43" height="6.8" fill="#e0e0e0"/>
<rect x="364.98" y="304.98" width="7.43" height="6.8" fill="#e0e0e0"/>
<rect x="373.41" y="304.98" width="7.43" height="6.8" fill="#e0e0e0"/>
<rect x="111.1" y="312.6" width="7.15" height="6.8" fill="#e0e0e0"/>
<rect x="119.25" y="312.6" width="7.15" height="6.8" fill="#e0e0e0"/>
<rect x="127.4" y="312.6" width="7.15" height="6.8" fill="#e0e0e0"/>
<rect x="135.55" y="312.6" width="7.15" height="6.8" fill="#e0e0e0"/>
<rect x="143.7" y="312.6" width="7.15" height="6.8" fill="#e0e0e0"/>
<rect x="151.85" y="312.6" width="7.15" height="6.8" fill="#e0e0e0"/>
<rect x="160" y="312.6" width="7.15" height="6.8" fill="#e0e0e0"/>
<rect x="168.15" y="312.6" width="7.15" height="6.8" fill="#e0e0e0"/>
<rect x="176.3" y="312.6" width="7.15" height="6.8" fill="#e0e0e0"/>
<rect x="184.45" y="312.6" width="7.15" height="6.8" fill="#e0e0e0"/>
<rect x="192.6" y="312.6" width="7.15" height="6.8" fill="#e0e0e0"/>
<rect x="200.75" y="312.6" width="7.15" height="6.8" fill="#e0e0e0"/>
<rect x="208.9" y="312.6" width="7.15" height="6.8" fill="#e0e0e0"/>
<rect x="217.05" y="312.6" width="7.15" height="6.8" fill="#e0e0e0"/>
<rect x="225.2" y="312.6" width="7.15" height="6.8" fill="#e0e0e0"/>
<rect x="233.35" y="312.6" width="7.15" height="6.8" fill="#e0e0e0"/>
<rect x="241.5" y="312.6" width="7.15" height="6.8" fill="#e0e0e0"/>
<rect x="249.65" y="312.6" width="7.15" height="6.8" fill="#e0e0e0"/>
<rect x="257.8" y="312.6" width="7.15" height="6.8" fill="#e0e0e0"/>
<rect x="265.95" y="312.6" width="7.15" height="6.8" fill="#e0e0e0"/>
<rect x="274.1" y="312.6" width="7.15" height="6.8" fill="#e0e0e0"/>
<rect x="282.25" y="312.6" width="7.15" height="6.8" fill="#e0e0e0"/>
<rect x="290.4" y="312.6" width="7.15" height="6.8" fill="#e0e0e0"/>
<rect x="314.4" y="312.6" width="7.43" height="6.8" fill="#e0e0e0"/>
<rect x="322.83" y="312.6" width="7.43" height="6.8" fill="#e0e0e0"/>
<rect x="331.26" y="312.6" width="7.43" height="6.8" fill="#e0e0e0"/>
<rect x="339.69" y="312.6" width="7.43" height="6.8" fill="#e0e0e0"/>
<rect x="348.12" y="312.6" width="7.43" height="6.8" fill="#e0e0e0"/>
<rect x="356.55" y="312.6" width="7.43" height="6.8" fill="#e0e0e0"/>
<rect x="364.98" y="312.6" width="7.43" height="6.8" fill="#e0e0e0"/>
<rect x="373.41" y="312.6" width="7.43" height="6.8" fill="#e0e0e0"/>
<rect x="111.1" y="320.22" width="7.15" height="6.8" fill="#e0e0e0"/>
<rect x="119.25" y="320.22" width="7.15" height="6.8" fill="#e0e0e0"/>
<rect x="127.4" y="320.22" width="7.15" height="6.8" fill="#e0e0e0"/>
<rect x="135.55" y="320.22" width="7.15" height="6.8" fill="#e0e0e0"/>
<rect x="143.7" y="320.22" width="7.15" height="6.8" fill="#e0e0e0"/>
<rect x="151.85" y="320.22" width="7.15" height="6.8" fill="#e0e0e0"/>
<rect x="160" y="320.22" width="7.15" height="6.8" fill="#e0e0e0"/>
<rect x="168.15" y="320.22" width="7.15" height="6.8" fill="#e0e0e0"/>
<rect x="176.3" y="320.22" width="7.15" height="6.8" fill="#e0e0e0"/>
<rect x="184.45" y="320.22" width="7.15" height="6.8" fill="#e0e0e0"/>
<rect x="192.6" y="320.22" width="7.15" height="6.8" fill="#e0e0e0"/>
<rect x="200.75" y="320.22" width="7.15" height="6.8" fill="#e0e0e0"/>
<rect x="208.9" y="320.22" width="7.15" height="6.8" fill="#e0e0e0"/>
<rect x="217.05" y="320.22" width="7.15" height="6.8" fill="#e0e0e0"/>
<rect x="225.2" y="320.22" width="7.15" height="6.8" fill="#e0e0e0"/>
<rect x="233.35" y="320.22" width="7.15" height="6.8" fill="#e0e0e0"/>
<rect x="241.5" y="320.22" width="7.15" height="6.8" fill="#e0e0e0"/>
<rect x="249.65" y="320.22" width="7.15" height="6.8" fill="#e0e0e0"/>
<rect x="257.8" y="320.22" width="7.15" height="6.8" fill="#e0e0e0"/>
<rect x="265.95" y="320.22" width="7.15" height="6.8" fill="#e0e0e0"/>
<rect x="274.1" y="320.22" width="7.15" height="6.8" fill="#e0e0e0"/>
<rect x="282.25" y="320.22" width="7.15" height="6.8" fill="#e0e0e0"/>
<rect x="290.4" y="320.22" width="7.15" height="6.8" fill="#e0e0e0"/>
<rect x="314.4" y="320.22" width="7.43" height="6.8" fill="#e0e0e0"/>
<rect x="322.83" y="320.22" width="7.43" height="6.8" fill="#e0e0e0"/>
<rect x="331.26" y="320.22" width="7.43" height="6.8" fill="#e0e0e0"/>
<rect x="339.69" y="320.22" width="7.43" height="6.8" fill="#e0e0e0"/>
<rect x="348.12" y="320.22" width="7.43" height="6.8" fill="#e0e0e0"/>
<rect x="356.55" y="320.22" width="7.43" height="6.8" fill="#e0e0e0"/>
<rect x="364.98" y="320.22" width="7.43" height="6.8" fill="#e0e0e0"/>
<rect x="373.41" y="320.22" width="7.43" height="6.8" fill="#e0e0e0"/>
<rect x="111.1" y="327.84" width="7.15" height="6.8" fill="#e0e0e0"/>
<rect x="119.25" y="327.84" width="7.15" height="6.8" fill="#e0e0e0"/>
<rect x="127.4" y="327.84" width="7.15" height="6.8" fill="#e0e0e0"/>
<rect x="135.55" y="327.84" width="7.15" height="6.8" fill="#e0e0e0"/>
<rect x="143.7" y="327.84" width="7.15" height="6.8" fill="#e0e0e0"/>
<rect x="151.85" y="327.84" width="7.15" height="6.8" fill="#e0e0e0"/>
<rect x="160" y="327.84" width="7.15" height="6.8" fill="#e0e0e0"/>
<rect x="168.15" y="327.84" width="7.15" height="6.8" fill="#e0e0e0"/>
<rect x="176.3" y="327.84" width="7.15" height="6.8" fill="#e0e0e0"/>
<rect x="184.45" y="327.84" width="7.15" height="6.8" fill="#e0e0e0"/>
<rect x="192.6" y="327.84" width="7.15" height="6.8" fill="#e0e0e0"/>
<rect x="200.75" y="327.84" width="7.15" height="6.8" fill="#e0e0e0"/>
<rect x="208.9" y="327.84" width="7.15" height="6.8" fill="#e0e0e0"/>
<rect x="217.05" y="327.84" width="7.15" height="6.8" fill="#e0e0e0"/>
<rect x="225.2" y="327.84" width="7.15" height="6.8" fill="#e0e0e0"/>
<rect x="233.35" y="327.84" width="7.15" height="6.8" fill="#e0e0e0"/>
<rect x="241.5" y="327.84" width="7.15" height="6.8" fill="#e0e0e0"/>
<rect x="249.65" y="327.84" width="7.15" height="6.8" fill="#e0e0e0"/>
<rect x="257.8" y="327.84" width="7.15" height="6.8" fill="#e0e0e0"/>
<rect x="265.95" y="327.84" width="7.15" height="6.8" fill="#e0e0e0"/>
<rect x="274.1" y="327.84" width="7.15" height="6.8" fill="#e0e0e0"/>
<rect x="282.25" y="327.84" width="7.15" height="6.8" fill="#e0e0e0"/>
<rect x="290.4" y="327.84" width="7.15" height="6.8" fill="#e0e0e0"/>
<rect x="314.4" y="327.84" width="7.43" height="6.8" fill="#e0e0e0"/>
<rect x="322.83" y="327.84" width="7.43" height="6.8" fill="#e0e0e0"/>
<rect x="331.26" y="327.84" width="7.43" height="6.8" fill="#e0e0e0"/>
<rect x="339.69" y="327.84" width="7.43" height="6.8" fill="#e0e0e0"/>
<rect x="348.12" y="327.84" width="7.43" height="6.8" fill="#e0e0e0"/>
<rect x="356.55" y="327.84" width="7.43" height="6.8" fill="#e0e0e0"/>
<rect x="364.98" y="327.84" width="7.43" height="6.8" fill="#e0e0e0"/>
<rect x="373.41" y="327.84" width="7.43" height="6.8" fill="#e0e0e0"/>
</g>
<g>
<rect x="111.1" y="45.9" width="7.15" height="6.8" fill="#f0a232"/>
<rect x="119.25" y="45.9" width="7.15" height="6.8" fill="#6387c6"/>
<rect x="168.15" y="45.9" width="7.15" height="6.8" fill="#f0a232"/>
<rect x="184.45" y="45.9" width="7.15" height="6.8" fill="#e00a0a"/>
<rect x="192.6" y="45.9" width="7.15" height="6.8" fill="#f0a232"/>
<rect x="208.9" y="45.9" width="7.15" height="6.8" fill="#6a0d88"/>
<rect x="233.35" y="45.9" width="7.15" height="6.8" fill="#f0a232"/>
<rect x="111.1" y="53.52" width="7.15" height="6.8" fill="#e00a0a"/>
<rect x="119.25" y="53.52" width="7.15" height="6.8" fill="#e00a0a"/>
<rect x="143.7" y="53.52" width="7.15" height="6.8" fill="#6387c6"/>
<rect x="160" y="53.52" width="7.15" height="6.8" fill="#6a0d88"/>
<rect x="168.15" y="53.52" width="7.15" height="6.8" fill="#6a0d88"/>
<rect x="192.6" y="53.52" width="7.15" height="6.8" fill="#e00a0a"/>
<rect x="233.35" y="53.52" width="7.15" height="6.8" fill="#6387c6"/>
<rect x="127.4" y="61.14" width="7.15" height="6.8" fill="#e00a0a"/>
<rect x="135.55" y="61.14" width="7.15" height="6.8" fill="#e00a0a"/>
<rect x="160" y="61.14" width="7.15" height="6.8" fill="#6387c6"/>
<rect x="200.75" y="61.14" width="7.15" height="6.8" fill="#6387c6"/>
<rect x="249.65" y="61.14" width="7.15" height="6.8" fill="#6387c6"/>
<rect x="127.4" y="68.76" width="7.15" height="6.8" fill="#6a0d88"/>
<rect x="168.15" y="68.76" width="7.15" height="6.8" fill="#6387c6"/>
<rect x="217.05" y="68.76" width="7.15" height="6.8" fill="#6a0d88"/>
<rect x="225.2" y="68.76" width="7.15" height="6.8" fill="#6387c6"/>
<rect x="233.35" y="68.76" width="7.15" height="6.8" fill="#6387c6"/>
<rect x="111.1" y="76.38" width="7.15" height="6.8" fill="#000000"/>
<rect x="135.55" y="76.38" width="7.15" height="6.8" fill="#000000"/>
<rect x="192.6" y="76.38" width="7.15" height="6.8" fill="#6387c6"/>
<rect x="249.65" y="76.38" width="7.15" height="6.8" fill="#000000"/>
<rect x="135.55" y="84" width="7.15" height="6.8" fill="#6387c6"/>
<rect x="143.7" y="84" width="7.15" height="6.8" fill="#6387c6"/>
<rect x="160" y="84" width="7.15" height="6.8" fill="#6387c6"/>
<rect x="208.9" y="84" width="7.15" height="6.8" fill="#6387c6"/>
<rect x="274.1" y="84" width="7.15" height="6.8" fill="#6387c6"/>
<rect x="111.1" y="91.62" width="7.15" height="6.8" fill="#6387c6"/>
<rect x="119.25" y="91.62" width="7.15" height="6.8" fill="#f0a232"/>
<rect x="151.85" y="91.62" width="7.15" height="6.8" fill="#6387c6"/>
<rect x="184.45" y="91.62" width="7.15" height="6.8" fill="#6387c6"/>
<rect x="127.4" y="99.24" width="7.15" height="6.8" fill="#6387c6"/>
<rect x="192.6" y="99.24" width="7.15" height="6.8" fill="#6387c6"/>
<rect x="233.35" y="99.24" width="7.15" height="6.8" fill="#6387c6"/>
<rect x="143.7" y="106.86" width="7.15" height="6.8" fill="#6387c6"/>
<rect x="176.3" y="106.86" width="7.15" height="6.8" fill="#6387c6"/>
<rect x="225.2" y="106.86" width="7.15" height="6.8" fill="#6387c6"/>
<rect x="135.55" y="114.48" width="7.15" height="6.8" fill="#6387c6"/>
<rect x="160" y="114.48" width="7.15" height="6.8" fill="#6387c6"/>
<rect x="265.95" y="114.48" width="7.15" height="6.8" fill="#6387c6"/>
<rect x="160" y="122.1" width="7.15" height="6.8" fill="#6387c6"/>
<rect x="168.15" y="122.1" width="7.15" height="6.8" fill="#6387c6"/>
<rect x="176.3" y="122.1" width="7.15" height="6.8" fill="#6387c6"/>
<rect x="111.1" y="129.72" width="7.15" height="6.8" fill="#6387c6"/>
<rect x="151.85" y="129.72" width="7.15" height="6.8" fill="#6387c6"/>
<rect x="168.15" y="129.72" width="7.15" height="6.8" fill="#6387c6"/>
<rect x="135.55" y="137.34" width="7.15" height="6.8" fill="#6387c6"/>
<rect x="217.05" y="137.34" width="7.15" height="6.8" fill="#6387c6"/>
<rect x="111.1" y="144.96" width="7.15" height="6.8" fill="#f0a232"/>
<rect x="127.4" y="144.96" width="7.15" height="6.8" fill="#6387c6"/>
<rect x="151.85" y="144.96" width="7.15" height="6.8" fill="#6387c6"/>
<rect x="143.7" y="152.58" width="7.15" height="6.8" fill="#6387c6"/>
<rect x="160" y="152.58" width="7.15" height="6.8" fill="#6387c6"/>
<rect x="176.3" y="152.58" width="7.15" height="6.8" fill="#6387c6"/>
<rect x="111.1" y="160.2" width="7.15" height="6.8" fill="#6387c6"/>
<rect x="127.4" y="160.2" width="7.15" height="6.8" fill="#6387c6"/>
<rect x="135.55" y="160.2" width="7.15" height="6.8" fill="#6387c6"/>
<rect x="143.7" y="160.2" width="7.15" height="6.8" fill="#e00a0a"/>
<rect x="217.05" y="167.82" width="7.15" height="6.8" fill="#6387c6"/>
<rect x="233.35" y="167.82" width="7.15" height="6.8" fill="#6387c6"/>
<rect x="135.55" y="175.44" width="7.15" height="6.8" fill="#6387c6"/>
<rect x="160" y="175.44" width="7.15" height="6.8" fill="#6387c6"/>
<rect x="208.9" y="175.44" width="7.15" height="6.8" fill="#6387c6"/>
<rect x="249.65" y="175.44" width="7.15" height="6.8" fill="#6387c6"/>
<rect x="135.55" y="183.06" width="7.15" height="6.8" fill="#6a0d88"/>
<rect x="143.7" y="183.06" width="7.15" height="6.8" fill="#f0a232"/>
<rect x="225.2" y="183.06" width="7.15" height="6.8" fill="#6387c6"/>
<rect x="111.1" y="190.68" width="7.15" height="6.8" fill="#6387c6"/>
<rect x="143.7" y="190.68" width="7.15" height="6.8" fill="#6387c6"/>
<rect x="160" y="198.3" width="7.15" height="6.8" fill="#e00a0a"/>
<rect x="225.2" y="198.3" width="7.15" height="6.8" fill="#6387c6"/>
<rect x="143.7" y="205.92" width="7.15" height="6.8" fill="#6387c6"/>
<rect x="151.85" y="205.92" width="7.15" height="6.8" fill="#6387c6"/>
<rect x="192.6" y="213.54" width="7.15" height="6.8" fill="#6a0d88"/>
<rect x="111.1" y="221.16" width="7.15" height="6.8" fill="#e00a0a"/>
<rect x="143.7" y="221.16" width="7.15" height="6.8" fill="#e00a0a"/>
<rect x="151.85" y="221.16" width="7.15" height="6.8" fill="#e00a0a"/>
<rect x="168.15" y="228.78" width="7.15" height="6.8" fill="#f0a232"/>
<rect x="217.05" y="228.78" width="7.15" height="6.8" fill="#6387c6"/>
<rect x="127.4" y="236.4" width="7.15" height="6.8" fill="#6387c6"/>
<rect x="143.7" y="244.02" width="7.15" height="6.8" fill="#6387c6"/>
<rect x="160" y="244.02" width="7.15" height="6.8" fill="#6387c6"/>
<rect x="168.15" y="251.64" width="7.15" height="6.8" fill="#e00a0a"/>
<rect x="192.6" y="251.64" width="7.15" height="6.8" fill="#6387c6"/>
<rect x="233.35" y="251.64" width="7.15" height="6.8" fill="#6387c6"/>
<rect x="143.7" y="259.26" width="7.15" height="6.8" fill="#6387c6"/>
<rect x="176.3" y="259.26" width="7.15" height="6.8" fill="#f0a232"/>
<rect x="127.4" y="266.88" width="7.15" height="6.8" fill="#6387c6"/>
<rect x="151.85" y="266.88" width="7.15" height="6.8" fill="#6387c6"/>
<rect x="160" y="266.88" width="7.15" height="6.8" fill="#6387c6"/>
<rect x="127.4" y="274.5" width="7.15" height="6.8" fill="#f0a232"/>
<rect x="135.55" y="274.5" width="7.15" height="6.8" fill="#6387c6"/>
<rect x="143.7" y="274.5" width="7.15" height="6.8" fill="#6387c6"/>
<rect x="151.85" y="282.12" width="7.15" height="6.8" fill="#6387c6"/>
<rect x="176.3" y="282.12" width="7.15" height="6.8" fill="#6a0d88"/>
<rect x="111.1" y="289.74" width="7.15" height="6.8" fill="#6387c6"/>
<rect x="119.25" y="289.74" width="7.15" height="6.8" fill="#6387c6"/>
<rect x="111.1" y="297.36" width="7.15" height="6.8" fill="#6387c6"/>
<rect x="143.7" y="297.36" width="7.15" height="6.8" fill="#6387c6"/>
<rect x="168.15" y="297.36" width="7.15" height="6.8" fill="#6387c6"/>
<rect x="143.7" y="304.98" width="7.15" height="6.8" fill="#6387c6"/>
<rect x="168.15" y="304.98" width="7.15" height="6.8" fill="#6387c6"/>
<rect x="241.5" y="304.98" width="7.15" height="6.8" fill="#6387c6"/>
<rect x="151.85" y="312.6" width="7.15" height="6.8" fill="#6387c6"/>
<rect x="160" y="312.6" width="7.15" height="6.8" fill="#6387c6"/>
<rect x="127.4" y="320.22" width="7.15" height="6.8" fill="#6387c6"/>
<rect x="168.15" y="320.22" width="7.15" height="6.8" fill="#6387c6"/>
<rect x="176.3" y="320.22" width="7.15" height="6.8" fill="#6387c6"/>
<rect x="135.55" y="327.84" width="7.15" height="6.8" fill="#6a0d88"/>
<rect x="168.15" y="327.84" width="7.15" height="6.8" fill="#f0a232"/>
<rect x="192.6" y="327.84" width="7.15" height="6.8" fill="#e00a0a"/>
<rect x="322.83" y="61.14" width="7.43" height="6.8" fill="#6387c6"/>
<rect x="364.98" y="61.14" width="7.43" height="6.8" fill="#e00a0a"/>
<rect x="314.4" y="68.76" width="7.43" height="6.8" fill="#6a0d88"/>
<rect x="322.83" y="76.38" width="7.43" height="6.8" fill="#000000"/>
<rect x="339.69" y="76.38" width="7.43" height="6.8" fill="#000000"/>
<rect x="339.69" y="91.62" width="7.43" height="6.8" fill="#6387c6"/>
<rect x="314.4" y="99.24" width="7.43" height="6.8" fill="#6387c6"/>
<rect x="356.55" y="106.86" width="7.43" height="6.8" fill="#e00a0a"/>
<rect x="322.83" y="114.48" width="7.43" height="6.8" fill="#6387c6"/>
<rect x="339.69" y="122.1" width="7.43" height="6.8" fill="#6387c6"/>
<rect x="348.12" y="129.72" width="7.43" height="6.8" fill="#e00a0a"/>
<rect x="339.69" y="137.34" width="7.43" height="6.8" fill="#6387c6"/>
<rect x="356.55" y="137.34" width="7.43" height="6.8" fill="#6387c6"/>
<rect x="339.69" y="144.96" width="7.43" height="6.8" fill="#e00a0a"/>
<rect x="339.69" y="152.58" width="7.43" height="6.8" fill="#6387c6"/>
<rect x="356.55" y="167.82" width="7.43" height="6.8" fill="#6387c6"/>
<rect x="373.41" y="167.82" width="7.43" height="6.8" fill="#6387c6"/>
<rect x="322.83" y="190.68" width="7.43" height="6.8" fill="#e00a0a"/>
<rect x="348.12" y="198.3" width="7.43" height="6.8" fill="#f0a232"/>
<rect x="322.83" y="205.92" width="7.43" height="6.8" fill="#6387c6"/>
<rect x="314.4" y="213.54" width="7.43" height="6.8" fill="#6a0d88"/>
<rect x="339.69" y="213.54" width="7.43" height="6.8" fill="#e00a0a"/>
<rect x="356.55" y="228.78" width="7.43" height="6.8" fill="#6387c6"/>
<rect x="322.83" y="236.4" width="7.43" height="6.8" fill="#6387c6"/>
<rect x="339.69" y="236.4" width="7.43" height="6.8" fill="#6a0d88"/>
<rect x="331.26" y="244.02" width="7.43" height="6.8" fill="#6387c6"/>
<rect x="348.12" y="259.26" width="7.43" height="6.8" fill="#6387c6"/>
<rect x="348.12" y="282.12" width="7.43" height="6.8" fill="#6387c6"/>
<rect x="314.4" y="289.74" width="7.43" height="6.8" fill="#6387c6"/>
<rect x="339.69" y="312.6" width="7.43" height="6.8" fill="#6387c6"/>
</g>
<g>
<rect x="29.04" y="52.62" width="56.56" height="1" fill="#93acd4"/>
<rect x="29.04" y="60.24" width="56.56" height="1" fill="#93acd4"/>
<rect x="37.12" y="67.86" width="48.48" height="1" fill="#93acd4"/>
<rect x="37.12" y="75.48" width="48.48" height="1" fill="#93acd4"/>
<rect x="45.2" y="83.1" width="40.4" height="1" fill="#93acd4"/>
<rect x="45.2" y="90.72" width="40.4" height="1" fill="#93acd4"/>
<rect x="53.28" y="98.34" width="32.32" height="1" fill="#93acd4"/>
<rect x="53.28" y="105.96" width="32.32" height="1" fill="#93acd4"/>
<rect x="53.28" y="113.58" width="32.32" height="1" fill="#93acd4"/>
<rect x="53.28" y="121.2" width="32.32" height="1" fill="#93acd4"/>
<rect x="53.28" y="128.82" width="32.32" height="1" fill="#93acd4"/>
<rect x="53.28" y="136.44" width="32.32" height="1" fill="#93acd4"/>
<rect x="53.28" y="144.06" width="32.32" height="1" fill="#93acd4"/>
<rect x="53.28" y="151.68" width="32.32" height="1" fill="#93acd4"/>
<rect x="53.28" y="159.3" width="32.32" height="1" fill="#93acd4"/>
<rect x="53.28" y="166.92" width="32.32" height="1" fill="#93acd4"/>
<rect x="53.28" y="174.54" width="32.32" height="1" fill="#93acd4"/>
<rect x="61.36" y="182.16" width="24.24" height="1" fill="#93acd4"/>
<rect x="61.36" y="189.78" width="24.24" height="1" fill="#93acd4"/>
<rect x="61.36" y="197.4" width="24.24" height="1" fill="#93acd4"/>
<rect x="61.36" y="205.02" width="24.24" height="1" fill="#93acd4"/>
<rect x="61.36" y="212.64" width="24.24" height="1" fill="#93acd4"/>
<rect x="61.36" y="220.26" width="24.24" height="1" fill="#93acd4"/>
<rect x="61.36" y="227.88" width="24.24" height="1" fill="#93acd4"/>
<rect x="61.36" y="235.5" width="24.24" height="1" fill="#93acd4"/>
<rect x="61.36" y="243.12" width="24.24" height="1" fill="#93acd4"/>
<rect x="61.36" y="250.74" width="24.24" height="1" fill="#93acd4"/>
<rect x="61.36" y="258.36" width="24.24" height="1" fill="#93acd4"/>
<rect x="61.36" y="265.98" width="24.24" height="1" fill="#93acd4"/>
<rect x="61.36" y="273.6" width="24.24" height="1" fill="#93acd4"/>
<rect x="61.36" y="281.22" width="24.24" height="1" fill="#93acd4"/>
<rect x="61.36" y="288.84" width="24.24" height="1" fill="#93acd4"/>
<rect x="61.36" y="296.46" width="24.24" height="1" fill="#93acd4"/>
<rect x="61.36" y="304.08" width="24.24" height="1" fill="#93acd4"/>
<rect x="61.36" y="311.7" width="24.24" height="1" fill="#93acd4"/>
<rect x="61.36" y="319.32" width="24.24" height="1" fill="#93acd4"/>
<rect x="61.36" y="326.94" width="24.24" height="1" fill="#93acd4"/>
<rect x="29.04" y="45.9" width="56.56" height="6.87" fill="#4b6690"/>
<rect x="29.04" y="53.52" width="56.56" height="6.87" fill="#4b6690"/>
<rect x="29.04" y="61.14" width="56.56" height="6.87" fill="#4b6690"/>
<rect x="37.12" y="68.76" width="48.48" height="6.87" fill="#4b6690"/>
<rect x="37.12" y="76.38" width="48.48" height="6.87" fill="#4b6690"/>
<rect x="45.2" y="84" width="40.4" height="6.87" fill="#4b6690"/>
<rect x="45.2" y="91.62" width="40.4" height="6.87" fill="#4b6690"/>
<rect x="53.28" y="99.24" width="32.32" height="6.87" fill="#4b6690"/>
<rect x="53.28" y="106.86" width="32.32" height="6.87" fill="#4b6690"/>
<rect x="53.28" y="114.48" width="32.32" height="6.87" fill="#4b6690"/>
<rect x="53.28" y="122.1" width="32.32" height="6.87" fill="#4b6690"/>
<rect x="53.28" y="129.72" width="32.32" height="6.87" fill="#4b6690"/>
<rect x="53.28" y="137.34" width="32.32" height="6.87" fill="#4b6690"/>
<rect x="53.28" y="144.96" width="32.32" height="6.87" fill="#4b6690"/>
<rect x="53.28" y="152.58" width="32.32" height="6.87" fill="#4b6690"/>
<rect x="53.28" y="160.2" width="32.32" height="6.87" fill="#4b6690"/>
<rect x="53.28" y="167.82" width="32.32" height="6.87" fill="#4b6690"/>
<rect x="53.28" y="175.44" width="32.32" height="6.87" fill="#4b6690"/>
<rect x="61.36" y="183.06" width="24.24" height="6.87" fill="#4b6690"/>
<rect x="61.36" y="190.68" width="24.24" height="6.87" fill="#4b6690"/>
<rect x="61.36" y="198.3" width="24.24" height="6.87" fill="#4b6690"/>
<rect x="61.36" y="205.92" width="24.24" height="6.87" fill="#4b6690"/>
<rect x="61.36" y="213.54" width="24.24" height="6.87" fill="#4b6690"/>
<rect x="61.36" y="221.16" width="24.24" height="6.87" fill="#4b6690"/>
<rect x="61.36" y="228.78" width="24.24" height="6.87" fill="#4b6690"/>
<rect x="61.36" y="236.4" width="24.24" height="6.87" fill="#4b6690"/>
<rect x="61.36" y="244.02" width="24.24" height="6.87" fill="#4b6690"/>
<rect x="61.36" y="251.64" width="24.24" height="6.87" fill="#4b6690"/>
<rect x="61.36" y="259.26" width="24.24" height="6.87" fill="#4b6690"/>
<rect x="61.36" y="266.88" width="24.24" height="6.87" fill="#4b6690"/>
<rect x="61.36" y="274.5" width="24.24" height="6.87" fill="#4b6690"/>
<rect x="61.36" y="282.12" width="24.24" height="6.87" fill="#4b6690"/>
<rect x="61.36" y="289.74" width="24.24" height="6.87" fill="#4b6690"/>
<rect x="61.36" y="297.36" width="24.24" height="6.87" fill="#4b6690"/>
<rect x="61.36" y="304.98" width="24.24" height="6.87" fill="#4b6690"/>
<rect x="61.36" y="312.6" width="24.24" height="6.87" fill="#4b6690"/>
<rect x="61.36" y="320.22" width="24.24" height="6.87" fill="#4b6690"/>
<rect x="61.36" y="327.84" width="24.24" height="6.87" fill="#4b6690"/>
</g>
<g font-size="6.4">
<text x="89.3" y="52.3">23%</text>
<text x="89.3" y="59.92">23%</text>
<text x="89.3" y="67.54">23%</text>
<text x="89.3" y="75.16">19%</text>
<text x="89.3" y="82.78">19%</text>
<text x="89.3" y="90.4">16%</text>
<text x="89.3" y="98.02">16%</text>
<text x="89.3" y="105.64">13%</text>
<text x="89.3" y="113.26">13%</text>
<text x="89.3" y="120.88">13%</text>
<text x="89.3" y="128.5">13%</text>
<text x="89.3" y="136.12">13%</text>
<text x="89.3" y="143.74">13%</text>
<text x="89.3" y="151.36">13%</text>
<text x="89.3" y="158.98">13%</text>
<text x="89.3" y="166.6">13%</text>
<text x="89.3" y="174.22">13%</text>
<text x="89.3" y="181.84">13%</text>
<text x="89.3" y="189.46">10%</text>
<text x="89.3" y="197.08">10%</text>
<text x="89.3" y="204.7">10%</text>
<text x="89.3" y="212.32">10%</text>
<text x="89.3" y="219.94">10%</text>
<text x="89.3" y="227.56">10%</text>
<text x="89.3" y="235.18">10%</text>
<text x="89.3" y="242.8">10%</text>
<text x="89.3" y="250.42">10%</text>
<text x="89.3" y="258.04">10%</text>
<text x="89.3" y="265.66">10%</text>
<text x="89.3" y="273.28">10%</text>
<text x="89.3" y="280.9">10%</text>
<text x="89.3" y="288.52">10%</text>
<text x="89.3" y="296.14">10%</text>
<text x="89.3" y="303.76">10%</text>
<text x="89.3" y="311.38">10%</text>
<text x="89.3" y="319">10%</text>
<text x="89.3" y="326.62">10%</text>
<text x="89.3" y="334.24">10%</text>
</g>
<g stroke="#222222" stroke-width="1" fill="none">
<line x1="4" y1="335.5" x2="86.2" y2="335.5"/>
<line x1="85.6" y1="335.5" x2="85.6" y2="337.9"/>
<line x1="77.52" y1="335.5" x2="77.52" y2="337.9"/>
<line x1="69.44" y1="335.5" x2="69.44" y2="337.9"/>
<line x1="61.36" y1="335.5" x2="61.36" y2="337.9"/>
<line x1="53.28" y1="335.5" x2="53.28" y2="337.9"/>
<line x1="45.2" y1="335.5" x2="45.2" y2="337.9"/>
<line x1="37.12" y1="335.5" x2="37.12" y2="337.9"/>
<line x1="29.04" y1="335.5" x2="29.04" y2="337.9"/>
<line x1="20.96" y1="335.5" x2="20.96" y2="337.9"/>
<line x1="12.88" y1="335.5" x2="12.88" y2="337.9"/>
<line x1="4.8" y1="335.5" x2="4.8" y2="337.9"/>
</g>
<g font-size="6.5" text-anchor="middle">
<text x="4.8" y="345.5">10</text>
<text x="45.2" y="345.5">5</text>
<text x="85.6" y="345.5">0</text>
</g>
<text x="45" y="356" font-size="6.4" text-anchor="middle">No. of tumors with mutations</text>
<g>
<rect x="421.4" y="45.9" width="90.1" height="6.87" fill="#808080"/>
<rect x="421.4" y="53.52" width="69.6" height="6.87" fill="#808080"/>
<rect x="421.4" y="61.14" width="47.4" height="6.87" fill="#808080"/>
<rect x="421.4" y="68.76" width="90.1" height="6.87" fill="#808080"/>
<rect x="421.4" y="76.38" width="46.1" height="6.87" fill="#808080"/>
<rect x="421.4" y="84" width="47.4" height="6.87" fill="#808080"/>
<rect x="421.4" y="91.62" width="34.1" height="6.87" fill="#808080"/>
<rect x="421.4" y="99.24" width="38.6" height="6.87" fill="#808080"/>
<rect x="421.4" y="106.86" width="36.8" height="6.87" fill="#808080"/>
<rect x="421.4" y="114.48" width="33.4" height="6.87" fill="#808080"/>
<rect x="421.4" y="122.1" width="29.2" height="6.87" fill="#808080"/>
<rect x="421.4" y="129.72" width="20.5" height="6.87" fill="#808080"/>
<rect x="421.4" y="137.34" width="17.6" height="6.87" fill="#808080"/>
<rect x="421.4" y="144.96" width="16.4" height="6.87" fill="#808080"/>
<rect x="421.4" y="152.58" width="15.4" height="6.87" fill="#808080"/>
<rect x="421.4" y="160.2" width="14" height="6.87" fill="#808080"/>
<rect x="421.4" y="167.82" width="12.6" height="6.87" fill="#808080"/>
<rect x="421.4" y="175.44" width="10.9" height="6.87" fill="#808080"/>
<rect x="421.4" y="183.06" width="20" height="6.87" fill="#808080"/>
<rect x="421.4" y="190.68" width="20" height="6.87" fill="#808080"/>
<rect x="421.4" y="198.3" width="19.6" height="6.87" fill="#808080"/>
<rect x="421.4" y="205.92" width="19.6" height="6.87" fill="#808080"/>
<rect x="421.4" y="213.54" width="19" height="6.87" fill="#808080"/>
<rect x="421.4" y="221.16" width="18.2" height="6.87" fill="#808080"/>
<rect x="421.4" y="228.78" width="17.4" height="6.87" fill="#808080"/>
<rect x="421.4" y="236.4" width="16.4" height="6.87" fill="#808080"/>
<rect x="421.4" y="244.02" width="16.1" height="6.87" fill="#808080"/>
<rect x="421.4" y="251.64" width="15.7" height="6.87" fill="#808080"/>
<rect x="421.4" y="259.26" width="14.9" height="6.87" fill="#808080"/>
<rect x="421.4" y="266.88" width="14.6" height="6.87" fill="#808080"/>
<rect x="421.4" y="274.5" width="13.7" height="6.87" fill="#808080"/>
<rect x="421.4" y="282.12" width="12.4" height="6.87" fill="#808080"/>
<rect x="421.4" y="289.74" width="11.9" height="6.87" fill="#808080"/>
<rect x="421.4" y="297.36" width="11.9" height="6.87" fill="#808080"/>
<rect x="421.4" y="304.98" width="11.9" height="6.87" fill="#808080"/>
<rect x="421.4" y="312.6" width="11.6" height="6.87" fill="#808080"/>
<rect x="421.4" y="320.22" width="11.4" height="6.87" fill="#808080"/>
<rect x="421.4" y="327.84" width="11" height="6.87" fill="#808080"/>
</g>
<line x1="431.6" y1="46" x2="431.6" y2="335" stroke="#a82030" stroke-width="1.2"/>
<g font-size="6.3" text-anchor="end">
<text x="417.3" y="52.3">B2M</text>
<text x="417.3" y="59.92">CD70</text>
<text x="417.3" y="67.54">PIM1</text>
<text x="417.3" y="75.16">TMSB4X</text>
<text x="417.3" y="82.78">MYD88</text>
<text x="417.3" y="90.4">BTG2</text>
<text x="417.3" y="98.02">TP53</text>
<text x="417.3" y="105.64">UBE2A</text>
<text x="417.3" y="113.26">BTG1</text>
<text x="417.3" y="120.88">IGLL5</text>
<text x="417.3" y="128.5">HIST1H1E</text>
<text x="417.3" y="136.12">LRRN3</text>
<text x="417.3" y="143.74">MPEG1</text>
<text x="417.3" y="151.36">DCDC5</text>
<text x="417.3" y="158.98">SLITRK3</text>
<text x="417.3" y="166.6">DTX1</text>
<text x="417.3" y="174.22">NRXN3</text>
<text x="417.3" y="181.84">ROBO2</text>
<text x="417.3" y="189.46">CD79B</text>
<text x="417.3" y="197.08">OR10A2</text>
<text x="417.3" y="204.7">FAS</text>
<text x="417.3" y="212.32">HIST1H1C</text>
<text x="417.3" y="219.94">CDKN2A</text>
<text x="417.3" y="227.56">CXCR4</text>
<text x="417.3" y="235.18">EIF4A2</text>
<text x="417.3" y="242.8">TBL1XR1</text>
<text x="417.3" y="250.42">EEF1A1</text>
<text x="417.3" y="258.04">LYN</text>
<text x="417.3" y="265.66">ACTB</text>
<text x="417.3" y="273.28">SGK1</text>
<text x="417.3" y="280.9">ZFP36L1</text>
<text x="417.3" y="288.52">DDX3X</text>
<text x="417.3" y="296.14">EBF1</text>
<text x="417.3" y="303.76">POSTN</text>
<text x="417.3" y="311.38">GPR37</text>
<text x="417.3" y="319">BCL6</text>
<text x="417.3" y="326.62">STAT3</text>
<text x="417.3" y="334.24">TNFAIP3</text>
</g>
<g stroke="#222222" stroke-width="1" fill="none">
<line x1="420.9" y1="335.5" x2="518.98" y2="335.5"/>
<line x1="421.4" y1="335.5" x2="421.4" y2="337.9"/>
<line x1="429.49" y1="335.5" x2="429.49" y2="337.9"/>
<line x1="437.58" y1="335.5" x2="437.58" y2="337.9"/>
<line x1="445.67" y1="335.5" x2="445.67" y2="337.9"/>
<line x1="453.76" y1="335.5" x2="453.76" y2="337.9"/>
<line x1="461.85" y1="335.5" x2="461.85" y2="337.9"/>
<line x1="469.94" y1="335.5" x2="469.94" y2="337.9"/>
<line x1="478.03" y1="335.5" x2="478.03" y2="337.9"/>
<line x1="486.12" y1="335.5" x2="486.12" y2="337.9"/>
<line x1="494.21" y1="335.5" x2="494.21" y2="337.9"/>
<line x1="502.3" y1="335.5" x2="502.3" y2="337.9"/>
<line x1="510.39" y1="335.5" x2="510.39" y2="337.9"/>
<line x1="518.48" y1="335.5" x2="518.48" y2="337.9"/>
</g>
<g font-size="6.5" text-anchor="middle">
<text x="421.4" y="345.5">0</text>
<text x="461.85" y="345.5">5</text>
<text x="502.3" y="345.5">10</text>
</g>
<text x="447.8" y="356.3" font-size="6.4" text-anchor="middle">-log10(q-value)</text>
<g>
<rect x="111.1" y="2.9" width="7.15" height="1.3" fill="#3d2a0f"/>
<rect x="111.1" y="4.2" width="7.15" height="10.6" fill="#5b9b2b"/>
<rect x="111.1" y="14.8" width="7.15" height="25.6" fill="#4d6ba4"/>
<rect x="119.25" y="5.1" width="7.15" height="1.3" fill="#3d2a0f"/>
<rect x="119.25" y="6.4" width="7.15" height="10.7" fill="#5b9b2b"/>
<rect x="119.25" y="17.1" width="7.15" height="23.3" fill="#4d6ba4"/>
<rect x="127.4" y="5.9" width="7.15" height="1.3" fill="#3d2a0f"/>
<rect x="127.4" y="7.2" width="7.15" height="12.8" fill="#5b9b2b"/>
<rect x="127.4" y="20" width="7.15" height="20.4" fill="#4d6ba4"/>
<rect x="135.55" y="5.9" width="7.15" height="1.3" fill="#3d2a0f"/>
<rect x="135.55" y="7.2" width="7.15" height="7.1" fill="#5b9b2b"/>
<rect x="135.55" y="14.3" width="7.15" height="26.1" fill="#4d6ba4"/>
<rect x="143.7" y="9.1" width="7.15" height="1.3" fill="#3d2a0f"/>
<rect x="143.7" y="10.4" width="7.15" height="8.4" fill="#5b9b2b"/>
<rect x="143.7" y="18.8" width="7.15" height="21.6" fill="#4d6ba4"/>
<rect x="151.85" y="9.4" width="7.15" height="1.3" fill="#3d2a0f"/>
<rect x="151.85" y="10.7" width="7.15" height="7.6" fill="#5b9b2b"/>
<rect x="151.85" y="18.3" width="7.15" height="22.1" fill="#4d6ba4"/>
<rect x="160" y="12" width="7.15" height="11.4" fill="#5b9b2b"/>
<rect x="160" y="23.4" width="7.15" height="17" fill="#4d6ba4"/>
<rect x="168.15" y="15.8" width="7.15" height="1.3" fill="#3d2a0f"/>
<rect x="168.15" y="17.1" width="7.15" height="6.3" fill="#5b9b2b"/>
<rect x="168.15" y="23.4" width="7.15" height="17" fill="#4d6ba4"/>
<rect x="176.3" y="17.1" width="7.15" height="1.3" fill="#3d2a0f"/>
<rect x="176.3" y="18.4" width="7.15" height="5.6" fill="#5b9b2b"/>
<rect x="176.3" y="24" width="7.15" height="16.4" fill="#4d6ba4"/>
<rect x="184.45" y="17.9" width="7.15" height="1.3" fill="#3d2a0f"/>
<rect x="184.45" y="19.2" width="7.15" height="4.8" fill="#5b9b2b"/>
<rect x="184.45" y="24" width="7.15" height="16.4" fill="#4d6ba4"/>
<rect x="192.6" y="28.9" width="7.15" height="1.3" fill="#3d2a0f"/>
<rect x="192.6" y="30.2" width="7.15" height="2.6" fill="#5b9b2b"/>
<rect x="192.6" y="32.8" width="7.15" height="7.6" fill="#4d6ba4"/>
<rect x="200.75" y="28.9" width="7.15" height="1.3" fill="#3d2a0f"/>
<rect x="200.75" y="30.2" width="7.15" height="2.6" fill="#5b9b2b"/>
<rect x="200.75" y="32.8" width="7.15" height="7.6" fill="#4d6ba4"/>
<rect x="208.9" y="28.9" width="7.15" height="1.3" fill="#3d2a0f"/>
<rect x="208.9" y="30.2" width="7.15" height="2.6" fill="#5b9b2b"/>
<rect x="208.9" y="32.8" width="7.15" height="7.6" fill="#4d6ba4"/>
<rect x="217.05" y="31.2" width="7.15" height="1.3" fill="#3d2a0f"/>
<rect x="217.05" y="32.5" width="7.15" height="1.9" fill="#5b9b2b"/>
<rect x="217.05" y="34.4" width="7.15" height="6" fill="#4d6ba4"/>
<rect x="225.2" y="31.2" width="7.15" height="1.3" fill="#3d2a0f"/>
<rect x="225.2" y="32.5" width="7.15" height="1.9" fill="#5b9b2b"/>
<rect x="225.2" y="34.4" width="7.15" height="6" fill="#4d6ba4"/>
<rect x="233.35" y="31.5" width="7.15" height="3.1" fill="#5b9b2b"/>
<rect x="233.35" y="34.6" width="7.15" height="5.8" fill="#4d6ba4"/>
<rect x="241.5" y="32.2" width="7.15" height="1.8" fill="#5b9b2b"/>
<rect x="241.5" y="34" width="7.15" height="6.4" fill="#4d6ba4"/>
<rect x="249.65" y="33.6" width="7.15" height="2.2" fill="#5b9b2b"/>
<rect x="249.65" y="35.8" width="7.15" height="4.6" fill="#4d6ba4"/>
<rect x="257.8" y="35.8" width="7.15" height="1.6" fill="#5b9b2b"/>
<rect x="257.8" y="37.4" width="7.15" height="3" fill="#4d6ba4"/>
<rect x="265.95" y="35.8" width="7.15" height="1.6" fill="#5b9b2b"/>
<rect x="265.95" y="37.4" width="7.15" height="3" fill="#4d6ba4"/>
<rect x="274.1" y="37.6" width="7.15" height="0.9" fill="#5b9b2b"/>
<rect x="274.1" y="38.5" width="7.15" height="1.9" fill="#4d6ba4"/>
<rect x="282.25" y="38.2" width="7.15" height="0.7" fill="#5b9b2b"/>
<rect x="282.25" y="38.9" width="7.15" height="1.5" fill="#4d6ba4"/>
<rect x="290.4" y="39.2" width="7.15" height="0.4" fill="#5b9b2b"/>
<rect x="290.4" y="39.6" width="7.15" height="0.8" fill="#4d6ba4"/>
<rect x="314.4" y="15.4" width="7.43" height="8.6" fill="#5b9b2b"/>
<rect x="314.4" y="24" width="7.43" height="16.4" fill="#4d6ba4"/>
<rect x="322.83" y="22.5" width="7.43" height="1.3" fill="#3d2a0f"/>
<rect x="322.83" y="23.8" width="7.43" height="3.2" fill="#5b9b2b"/>
<rect x="322.83" y="27" width="7.43" height="13.4" fill="#4d6ba4"/>
<rect x="331.26" y="24.6" width="7.43" height="1.3" fill="#3d2a0f"/>
<rect x="331.26" y="25.9" width="7.43" height="3.9" fill="#5b9b2b"/>
<rect x="331.26" y="29.8" width="7.43" height="10.6" fill="#4d6ba4"/>
<rect x="339.69" y="24.6" width="7.43" height="1.3" fill="#3d2a0f"/>
<rect x="339.69" y="25.9" width="7.43" height="2.9" fill="#5b9b2b"/>
<rect x="339.69" y="28.8" width="7.43" height="11.6" fill="#4d6ba4"/>
<rect x="348.12" y="30.4" width="7.43" height="1.3" fill="#3d2a0f"/>
<rect x="348.12" y="31.7" width="7.43" height="1.9" fill="#5b9b2b"/>
<rect x="348.12" y="33.6" width="7.43" height="6.8" fill="#4d6ba4"/>
<rect x="356.55" y="30.8" width="7.43" height="3.4" fill="#5b9b2b"/>
<rect x="356.55" y="34.2" width="7.43" height="6.2" fill="#4d6ba4"/>
<rect x="364.98" y="33" width="7.43" height="1.3" fill="#3d2a0f"/>
<rect x="364.98" y="34.3" width="7.43" height="1.7" fill="#5b9b2b"/>
<rect x="364.98" y="36" width="7.43" height="4.4" fill="#4d6ba4"/>
<rect x="373.41" y="38.4" width="7.43" height="0.4" fill="#5b9b2b"/>
<rect x="373.41" y="38.8" width="7.43" height="1.6" fill="#4d6ba4"/>
</g>
<g stroke="#222222" stroke-width="1.2" fill="none">
<line x1="110.2" y1="2.6" x2="110.2" y2="41"/>
<line x1="109.6" y1="40.6" x2="300" y2="40.6"/>
<line x1="299" y1="40.6" x2="381.5" y2="40.6"/>
<line x1="108.2" y1="40.6" x2="110.2" y2="40.6"/>
<line x1="108.2" y1="33.05" x2="110.2" y2="33.05"/>
<line x1="108.2" y1="25.5" x2="110.2" y2="25.5"/>
<line x1="108.2" y1="17.95" x2="110.2" y2="17.95"/>
<line x1="108.2" y1="10.4" x2="110.2" y2="10.4"/>
<line x1="108.2" y1="2.85" x2="110.2" y2="2.85"/>
</g>
<g font-size="6.4" text-anchor="middle">
<text x="104.2" y="5.9">5</text>
<text x="104.2" y="43.9">0</text>
</g>
<rect x="390.2" y="3" width="6" height="5.9" fill="#7b4321"/>
<rect x="390.2" y="18.2" width="6" height="5.9" fill="#5b9b2b"/>
<rect x="390.2" y="33.1" width="6" height="5.9" fill="#4d6ba4"/>
<g font-size="6.35">
<text x="401" y="8">InDel</text>
<text x="401" y="23">Synonymous</text>
<text x="401" y="38.2">Nonsynonymous</text>
</g>
<g font-size="6" text-anchor="end">
<text transform="translate(117.58,341) rotate(-45)">DL42</text>
<text transform="translate(125.73,341) rotate(-45)">DL48</text>
<text transform="translate(133.88,341) rotate(-45)">DL29</text>
<text transform="translate(142.03,341) rotate(-45)">DL32</text>
<text transform="translate(150.17,341) rotate(-45)">DL44</text>
<text transform="translate(158.32,341) rotate(-45)">DL35</text>
<text transform="translate(166.47,341) rotate(-45)">DL43</text>
<text transform="translate(174.62,341) rotate(-45)">DL30</text>
<text transform="translate(182.78,341) rotate(-45)">DL45</text>
<text transform="translate(190.92,341) rotate(-45)">DL33</text>
<text transform="translate(199.07,341) rotate(-45)">DL47</text>
<text transform="translate(207.22,341) rotate(-45)">DL1</text>
<text transform="translate(215.38,341) rotate(-45)">DL37</text>
<text transform="translate(223.53,341) rotate(-45)">DL61</text>
<text transform="translate(231.67,341) rotate(-45)">DL39</text>
<text transform="translate(239.82,341) rotate(-45)">DL38</text>
<text transform="translate(247.97,341) rotate(-45)">DL41</text>
<text transform="translate(256.12,341) rotate(-45)">DL55</text>
<text transform="translate(264.27,341) rotate(-45)">DL67</text>
<text transform="translate(272.42,341) rotate(-45)">DL36</text>
<text transform="translate(280.57,341) rotate(-45)">DL31</text>
<text transform="translate(288.72,341) rotate(-45)">DL40</text>
<text transform="translate(296.87,341) rotate(-45)">DL60</text>
<text transform="translate(321.01,341) rotate(-45)">DL66</text>
<text transform="translate(329.44,341) rotate(-45)">DL50</text>
<text transform="translate(337.87,341) rotate(-45)">DL69</text>
<text transform="translate(346.3,341) rotate(-45)">DL65</text>
<text transform="translate(354.73,341) rotate(-45)">DL57</text>
<text transform="translate(363.16,341) rotate(-45)">DL53</text>
<text transform="translate(371.59,341) rotate(-45)">DL54</text>
<text transform="translate(380.02,341) rotate(-45)">DL58</text>
</g>
<g stroke="#222222" stroke-width="1.3" fill="none">
<path d="M101.3,349.3 V357 H298.3 V349.3"/>
<path d="M307.7,348.7 V357 H382.3 V348.7"/>
</g>
<g font-size="6.45" text-anchor="middle">
<text x="199.9" y="369.8">Primary samples</text>
<text x="344.8" y="369.8">Relapsed samples</text>
</g>
<g font-size="6.5">
<rect x="141.9" y="387" width="5.8" height="5.6" fill="#6387c6"/>
<text x="150.7" y="392.2">Missense</text>
<rect x="185.3" y="387" width="5.8" height="5.6" fill="#e00a0a"/>
<text x="195.5" y="392.2">Nonsense</text>
<rect x="230.8" y="387" width="5.8" height="5.6" fill="#000"/>
<text x="240.7" y="392.2">readthrough</text>
<rect x="281.5" y="387" width="5.8" height="5.6" fill="#6a0d88"/>
<text x="291.9" y="392.2">spliceSite</text>
<rect x="325.2" y="387" width="5.8" height="5.6" fill="#f0a232"/>
<text x="335.2" y="392.2">InDel</text>
</g>
</svg></body></html>
